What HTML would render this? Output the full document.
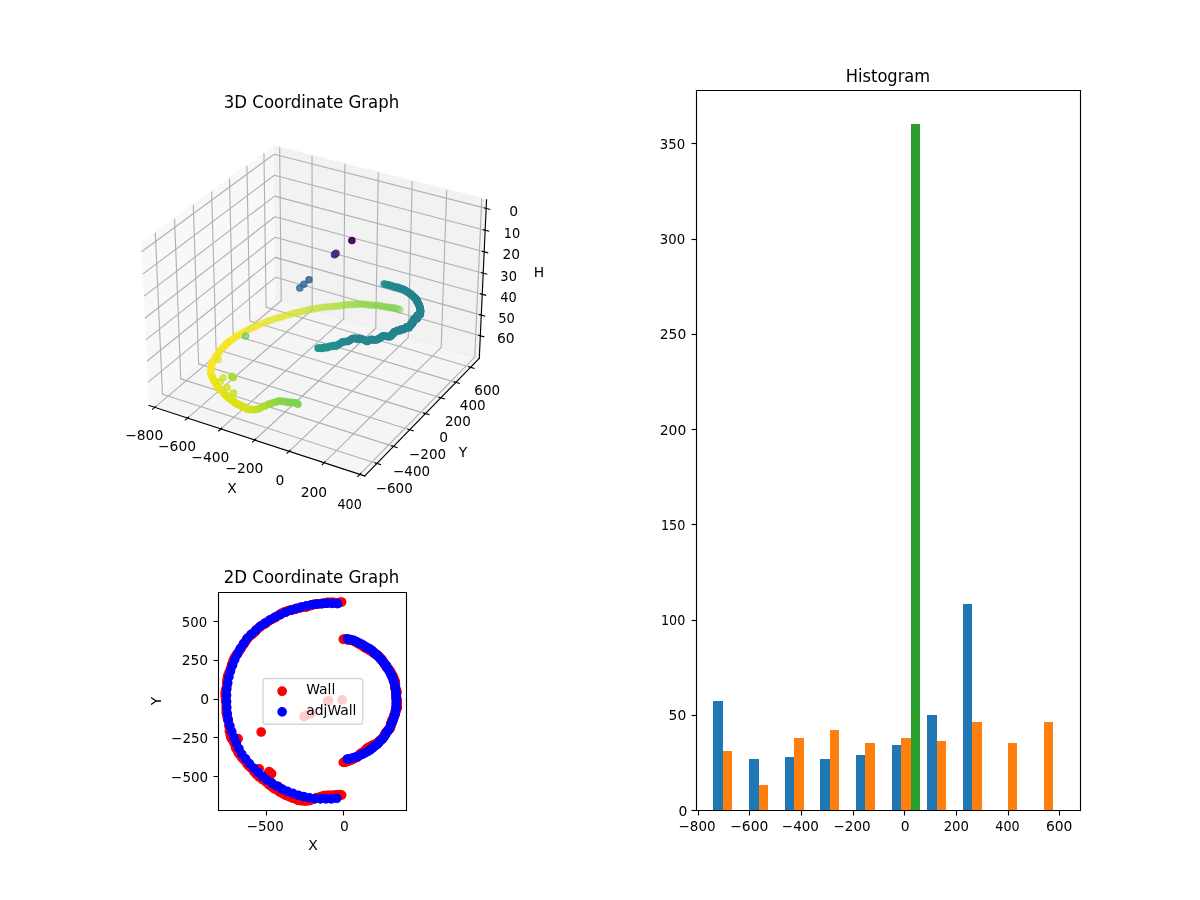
<!DOCTYPE html>
<html lang="en"><head><meta charset="utf-8"><title>Coordinate Graphs</title>
<style>html,body{margin:0;padding:0;background:#fff}svg{display:block}</style></head>
<body>
<svg width="1200" height="900" viewBox="0 0 864 648"><defs><style type="text/css">*{stroke-linejoin: round; stroke-linecap: butt}</style></defs><g><g><path d="M 0 648 L 864 648 L 864 0 L 0 0 z" style="fill: #ffffff" /></g><g><path d="M 86.4 360 L 362.88 360 L 362.88 83.52 L 86.4 83.52 z" style="fill: #ffffff" /></g><g><g><path d="M 101.64 174.87 L 197.31 105.06 L 198.58 215.43 L 107.28 291.96" style="fill: #f2f2f2; opacity: 0.5; stroke: #f2f2f2; stroke-linejoin: miter" /></g></g><g><g><path d="M 197.31 105.06 L 350.32 143.84 L 345.09 258.01 L 198.58 215.43" style="fill: #e6e6e6; opacity: 0.5; stroke: #e6e6e6; stroke-linejoin: miter" /></g></g><g><g><path d="M 107.28 291.96 L 262.58 342.68 L 345.09 258.01 L 198.58 215.43" style="fill: #ececec; opacity: 0.5; stroke: #ececec; stroke-linejoin: miter" /></g></g><g><g><path d="M 111.37 293.3 L 202.46 216.55 L 201.35 106.08" style="fill: none; stroke: #b0b0b0; stroke-width: 0.8" /><path d="M 134.98 301.01 L 224.8 223.05 L 224.65 111.99" style="fill: none; stroke: #b0b0b0; stroke-width: 0.8" /><path d="M 158.97 308.84 L 247.49 229.65 L 248.32 117.99" style="fill: none; stroke: #b0b0b0; stroke-width: 0.8" /><path d="M 183.37 316.81 L 270.53 236.34 L 272.37 124.08" style="fill: none; stroke: #b0b0b0; stroke-width: 0.8" /><path d="M 208.19 324.92 L 293.92 243.14 L 296.8 130.27" style="fill: none; stroke: #b0b0b0; stroke-width: 0.8" /><path d="M 233.42 333.16 L 317.67 250.04 L 321.64 136.57" style="fill: none; stroke: #b0b0b0; stroke-width: 0.8" /><path d="M 259.08 341.54 L 341.8 257.06 L 346.88 142.97" style="fill: none; stroke: #b0b0b0; stroke-width: 0.8" /></g></g><g><g><path d="M 111.82 167.44 L 116.96 283.84 L 271.37 333.66" style="fill: none; stroke: #b0b0b0; stroke-width: 0.8" /><path d="M 125.67 157.34 L 130.14 272.79 L 283.32 321.4" style="fill: none; stroke: #b0b0b0; stroke-width: 0.8" /><path d="M 139.17 147.48 L 143.02 262 L 294.96 309.45" style="fill: none; stroke: #b0b0b0; stroke-width: 0.8" /><path d="M 152.35 137.86 L 155.59 251.46 L 306.33 297.79" style="fill: none; stroke: #b0b0b0; stroke-width: 0.8" /><path d="M 165.21 128.48 L 167.87 241.17 L 317.42 286.41" style="fill: none; stroke: #b0b0b0; stroke-width: 0.8" /><path d="M 177.77 119.32 L 179.87 231.11 L 328.24 275.3" style="fill: none; stroke: #b0b0b0; stroke-width: 0.8" /><path d="M 190.03 110.37 L 191.61 221.27 L 338.81 264.45" style="fill: none; stroke: #b0b0b0; stroke-width: 0.8" /></g></g><g><g><path d="M 350.03 150.03 L 197.38 111.03 L 101.94 181.23" style="fill: none; stroke: #b0b0b0; stroke-width: 0.8" /><path d="M 349.31 165.76 L 197.55 126.22 L 102.72 197.39" style="fill: none; stroke: #b0b0b0; stroke-width: 0.8" /><path d="M 348.6 181.32 L 197.73 141.23 L 103.49 213.35" style="fill: none; stroke: #b0b0b0; stroke-width: 0.8" /><path d="M 347.9 196.69 L 197.9 156.09 L 104.25 229.12" style="fill: none; stroke: #b0b0b0; stroke-width: 0.8" /><path d="M 347.2 211.88 L 198.07 170.77 L 105 244.7" style="fill: none; stroke: #b0b0b0; stroke-width: 0.8" /><path d="M 346.51 226.89 L 198.23 185.3 L 105.74 260.09" style="fill: none; stroke: #b0b0b0; stroke-width: 0.8" /><path d="M 345.83 241.74 L 198.4 199.66 L 106.47 275.29" style="fill: none; stroke: #b0b0b0; stroke-width: 0.8" /></g></g><g><g><path d="M 107.28 291.96 L 262.58 342.68" style="fill: none; stroke: #000000; stroke-width: 0.8; stroke-linecap: square" /></g><g><g><path d="M 112.16 292.63 L 109.78 294.64" style="fill: none; stroke: #000000; stroke-width: 0.8; stroke-linecap: square" /></g><g><text style="font-size: 10px; font-family: 'DejaVu Sans', sans-serif; text-anchor: middle" x="103.83" y="316.57">−800</text></g></g><g><g><path d="M 135.76 300.33 L 133.41 302.37" style="fill: none; stroke: #000000; stroke-width: 0.8; stroke-linecap: square" /></g><g><text style="font-size: 10px; font-family: 'DejaVu Sans', sans-serif; text-anchor: middle" x="127.47" y="324.44">−600</text></g></g><g><g><path d="M 159.75 308.15 L 157.43 310.23" style="fill: none; stroke: #000000; stroke-width: 0.8; stroke-linecap: square" /></g><g><text style="font-size: 10px; font-family: 'DejaVu Sans', sans-serif; text-anchor: middle" x="151.49" y="332.43">−400</text></g></g><g><g><path d="M 184.13 316.11 L 181.85 318.22" style="fill: none; stroke: #000000; stroke-width: 0.8; stroke-linecap: square" /></g><g><text style="font-size: 10px; font-family: 'DejaVu Sans', sans-serif; text-anchor: middle" x="175.91" y="340.57">−200</text></g></g><g><g><path d="M 208.93 324.2 L 206.68 326.35" style="fill: none; stroke: #000000; stroke-width: 0.8; stroke-linecap: square" /></g><g><text style="font-size: 10px; font-family: 'DejaVu Sans', sans-serif; text-anchor: middle" x="200.75" y="348.84" transform="translate(0.720 0.720)">0</text></g></g><g><g><path d="M 234.15 332.43 L 231.94 334.61" style="fill: none; stroke: #000000; stroke-width: 0.8; stroke-linecap: square" /></g><g><text style="font-size: 10px; font-family: 'DejaVu Sans', sans-serif; text-anchor: middle" x="226.02" y="357.25" transform="translate(0.000 0.720)">200</text></g></g><g><g><path d="M 259.81 340.8 L 257.63 343.02" style="fill: none; stroke: #000000; stroke-width: 0.8; stroke-linecap: square" /></g><g><text style="font-size: 10px; font-family: 'DejaVu Sans', sans-serif; text-anchor: middle" x="251.72" y="365.8" transform="translate(0.000 0.720) translate(251.72 365.80) scale(0.9200 1.0000) translate(-251.72 -365.80)">400</text></g></g><g><text style="font-size: 10px; font-family: 'DejaVu Sans', sans-serif; text-anchor: middle" x="166.6" y="354.67" transform="translate(0.360 0.000)">X</text></g></g><g><g><path d="M 345.09 258.01 L 262.58 342.68" style="fill: none; stroke: #000000; stroke-width: 0.8; stroke-linecap: square" /></g><g><g><path d="M 270.07 333.24 L 273.98 334.5" style="fill: none; stroke: #000000; stroke-width: 0.8; stroke-linecap: square" /></g><g><text style="font-size: 10px; font-family: 'DejaVu Sans', sans-serif; text-anchor: middle" x="284.21" y="354.64" transform="translate(-0.360 0.000) translate(284.21 354.64) scale(0.9722 1.0000) translate(-284.21 -354.64)">−600</text></g></g><g><g><path d="M 282.03 321 L 285.9 322.22" style="fill: none; stroke: #000000; stroke-width: 0.8; stroke-linecap: square" /></g><g><text style="font-size: 10px; font-family: 'DejaVu Sans', sans-serif; text-anchor: middle" x="296" y="342.21" transform="translate(0.360 0.720) translate(296.00 342.21) scale(0.9722 1.0000) translate(-296.00 -342.21)">−400</text></g></g><g><g><path d="M 293.69 309.05 L 297.53 310.25" style="fill: none; stroke: #000000; stroke-width: 0.8; stroke-linecap: square" /></g><g><text style="font-size: 10px; font-family: 'DejaVu Sans', sans-serif; text-anchor: middle" x="307.5" y="330.08" transform="translate(0.360 0.720) translate(307.50 330.08) scale(0.9722 1.0000) translate(-307.50 -330.08)">−200</text></g></g><g><g><path d="M 305.06 297.4 L 308.87 298.57" style="fill: none; stroke: #000000; stroke-width: 0.8; stroke-linecap: square" /></g><g><text style="font-size: 10px; font-family: 'DejaVu Sans', sans-serif; text-anchor: middle" x="318.72" y="318.25" transform="translate(0.720 0.000)">0</text></g></g><g><g><path d="M 316.16 286.03 L 319.94 287.17" style="fill: none; stroke: #000000; stroke-width: 0.8; stroke-linecap: square" /></g><g><text style="font-size: 10px; font-family: 'DejaVu Sans', sans-serif; text-anchor: middle" x="329.66" y="306.71" transform="translate(329.66 306.71) scale(0.9750 1.0000) translate(-329.66 -306.71)">200</text></g></g><g><g><path d="M 327 274.93 L 330.74 276.04" style="fill: none; stroke: #000000; stroke-width: 0.8; stroke-linecap: square" /></g><g><text style="font-size: 10px; font-family: 'DejaVu Sans', sans-serif; text-anchor: middle" x="340.35" y="295.44" transform="translate(340.35 295.44) scale(0.9750 1.0000) translate(-340.35 -295.44)">400</text></g></g><g><g><path d="M 337.58 264.09 L 341.29 265.18" style="fill: none; stroke: #000000; stroke-width: 0.8; stroke-linecap: square" /></g><g><text style="font-size: 10px; font-family: 'DejaVu Sans', sans-serif; text-anchor: middle" x="350.78" y="284.44" transform="translate(350.78 284.44) scale(0.9750 1.0000) translate(-350.78 -284.44)">600</text></g></g><g><text style="font-size: 10px; font-family: 'DejaVu Sans', sans-serif; text-anchor: middle" x="332.65" y="329.22" transform="translate(0.720 0.000)">Y</text></g></g><g><g><path d="M 345.09 258.01 L 350.32 143.84" style="fill: none; stroke: #000000; stroke-width: 0.8; stroke-linecap: square" /></g><g><g><path d="M 348.75 149.7 L 352.6 150.68" style="fill: none; stroke: #000000; stroke-width: 0.8; stroke-linecap: square" /></g><g><text style="font-size: 10px; font-family: 'DejaVu Sans', sans-serif; text-anchor: middle" x="369.04" y="155.23" transform="translate(0.720 0.000)">0</text></g></g><g><g><path d="M 348.04 165.43 L 351.87 166.43" style="fill: none; stroke: #000000; stroke-width: 0.8; stroke-linecap: square" /></g><g><text style="font-size: 10px; font-family: 'DejaVu Sans', sans-serif; text-anchor: middle" x="368.21" y="170.94" transform="translate(0.360 0.720) translate(368.21 170.94) scale(0.9333 1.0000) translate(-368.21 -170.94)">10</text></g></g><g><g><path d="M 347.33 180.98 L 351.14 181.99" style="fill: none; stroke: #000000; stroke-width: 0.8; stroke-linecap: square" /></g><g><text style="font-size: 10px; font-family: 'DejaVu Sans', sans-serif; text-anchor: middle" x="367.39" y="186.46" transform="translate(0.720 0.000)">20</text></g></g><g><g><path d="M 346.64 196.35 L 350.42 197.37" style="fill: none; stroke: #000000; stroke-width: 0.8; stroke-linecap: square" /></g><g><text style="font-size: 10px; font-family: 'DejaVu Sans', sans-serif; text-anchor: middle" x="366.58" y="201.8" transform="translate(-0.360 0.720) translate(366.58 201.80) scale(0.9375 1.0000) translate(-366.58 -201.80)">30</text></g></g><g><g><path d="M 345.95 211.53 L 349.71 212.57" style="fill: none; stroke: #000000; stroke-width: 0.8; stroke-linecap: square" /></g><g><text style="font-size: 10px; font-family: 'DejaVu Sans', sans-serif; text-anchor: middle" x="365.77" y="216.96" transform="translate(0.360 0.720) translate(365.77 216.96) scale(0.9375 1.0000) translate(-365.77 -216.96)">40</text></g></g><g><g><path d="M 345.27 226.54 L 349.01 227.59" style="fill: none; stroke: #000000; stroke-width: 0.8; stroke-linecap: square" /></g><g><text style="font-size: 10px; font-family: 'DejaVu Sans', sans-serif; text-anchor: middle" x="364.98" y="231.95" transform="translate(-0.360 0.720) translate(364.98 231.95) scale(0.9375 1.0000) translate(-364.98 -231.95)">50</text></g></g><g><g><path d="M 344.59 241.38 L 348.31 242.44" style="fill: none; stroke: #000000; stroke-width: 0.8; stroke-linecap: square" /></g><g><text style="font-size: 10px; font-family: 'DejaVu Sans', sans-serif; text-anchor: middle" x="364.2" y="246.76">60</text></g></g><g><text style="font-size: 10px; font-family: 'DejaVu Sans', sans-serif; text-anchor: middle" x="388.03" y="199.52">H</text></g></g><g><g><g clip-path="url(#pd46f35ea29)"><circle cx="216" cy="224.62" r="2.236" style="fill: #d0e11c; fill-opacity: 0.3; stroke: #d0e11c; stroke-opacity: 0.3" /></g><g clip-path="url(#pd46f35ea29)"><circle cx="214.46" cy="224.93" r="2.236" style="fill: #d0e11c; fill-opacity: 0.300574; stroke: #d0e11c; stroke-opacity: 0.300574" /></g><g clip-path="url(#pd46f35ea29)"><circle cx="219.18" cy="223.9" r="2.236" style="fill: #cae11f; fill-opacity: 0.30082; stroke: #cae11f; stroke-opacity: 0.30082" /></g><g clip-path="url(#pd46f35ea29)"><circle cx="217.63" cy="224.19" r="2.236" style="fill: #cae11f; fill-opacity: 0.30109; stroke: #cae11f; stroke-opacity: 0.30109" /></g><g clip-path="url(#pd46f35ea29)"><circle cx="204.98" cy="227.54" r="2.236" style="fill: #dde318; fill-opacity: 0.301243; stroke: #dde318; stroke-opacity: 0.301243" /></g><g clip-path="url(#pd46f35ea29)"><circle cx="208.2" cy="226.53" r="2.236" style="fill: #d8e219; fill-opacity: 0.301605; stroke: #d8e219; stroke-opacity: 0.301605" /></g><g clip-path="url(#pd46f35ea29)"><circle cx="212.97" cy="225.21" r="2.236" style="fill: #d0e11c; fill-opacity: 0.301818; stroke: #d0e11c; stroke-opacity: 0.301818" /></g><g clip-path="url(#pd46f35ea29)"><circle cx="203.44" cy="228" r="2.236" style="fill: #dfe318; fill-opacity: 0.302133; stroke: #dfe318; stroke-opacity: 0.302133" /></g><g clip-path="url(#pd46f35ea29)"><circle cx="206.66" cy="226.95" r="2.236" style="fill: #dae319; fill-opacity: 0.302234; stroke: #dae319; stroke-opacity: 0.302234" /></g><g clip-path="url(#pd46f35ea29)"><circle cx="209.88" cy="225.97" r="2.236" style="fill: #d5e21a; fill-opacity: 0.302838; stroke: #d5e21a; stroke-opacity: 0.302838" /></g><g clip-path="url(#pd46f35ea29)"><circle cx="220.87" cy="223.41" r="2.236" style="fill: #c5e021; fill-opacity: 0.303287; stroke: #c5e021; stroke-opacity: 0.303287" /></g><g clip-path="url(#pd46f35ea29)"><circle cx="211.53" cy="225.45" r="2.236" style="fill: #d0e11c; fill-opacity: 0.30378; stroke: #d0e11c; stroke-opacity: 0.30378" /></g><g clip-path="url(#pd46f35ea29)"><circle cx="202" cy="228.36" r="2.236" style="fill: #dfe318; fill-opacity: 0.304251; stroke: #dfe318; stroke-opacity: 0.304251" /></g><g clip-path="url(#pd46f35ea29)"><circle cx="225.57" cy="222.55" r="2.236" style="fill: #c0df25; fill-opacity: 0.304685; stroke: #c0df25; stroke-opacity: 0.304685" /></g><g clip-path="url(#pd46f35ea29)"><circle cx="224.06" cy="222.73" r="2.236" style="fill: #c0df25; fill-opacity: 0.305279; stroke: #c0df25; stroke-opacity: 0.305279" /></g><g clip-path="url(#pd46f35ea29)"><circle cx="222.54" cy="222.93" r="2.236" style="fill: #c2df23; fill-opacity: 0.305829; stroke: #c2df23; stroke-opacity: 0.305829" /></g><g clip-path="url(#pd46f35ea29)"><circle cx="227.17" cy="222.24" r="2.236" style="fill: #bddf26; fill-opacity: 0.306114; stroke: #bddf26; stroke-opacity: 0.306114" /></g><g clip-path="url(#pd46f35ea29)"><circle cx="200.65" cy="228.66" r="2.236" style="fill: #dfe318; fill-opacity: 0.307362; stroke: #dfe318; stroke-opacity: 0.307362" /></g><g clip-path="url(#pd46f35ea29)"><circle cx="228.79" cy="221.89" r="2.236" style="fill: #bade28; fill-opacity: 0.308226; stroke: #bade28; stroke-opacity: 0.308226" /></g><g clip-path="url(#pd46f35ea29)"><circle cx="199.16" cy="229.13" r="2.236" style="fill: #dfe318; fill-opacity: 0.308876; stroke: #dfe318; stroke-opacity: 0.308876" /></g><g clip-path="url(#pd46f35ea29)"><circle cx="230.37" cy="221.6" r="2.236" style="fill: #b8de29; fill-opacity: 0.309779; stroke: #b8de29; stroke-opacity: 0.309779" /></g><g clip-path="url(#pd46f35ea29)"><circle cx="197.73" cy="229.56" r="2.236" style="fill: #e2e418; fill-opacity: 0.310985; stroke: #e2e418; stroke-opacity: 0.310985" /></g><g clip-path="url(#pd46f35ea29)"><circle cx="235" cy="221.09" r="2.236" style="fill: #b5de2b; fill-opacity: 0.311876; stroke: #b5de2b; stroke-opacity: 0.311876" /></g><g clip-path="url(#pd46f35ea29)"><circle cx="231.97" cy="221.29" r="2.236" style="fill: #b5de2b; fill-opacity: 0.312002; stroke: #b5de2b; stroke-opacity: 0.312002" /></g><g clip-path="url(#pd46f35ea29)"><circle cx="233.52" cy="221.09" r="2.236" style="fill: #b2dd2d; fill-opacity: 0.312992; stroke: #b2dd2d; stroke-opacity: 0.312992" /></g><g clip-path="url(#pd46f35ea29)"><circle cx="196.29" cy="230.03" r="2.236" style="fill: #e2e418; fill-opacity: 0.312999; stroke: #e2e418; stroke-opacity: 0.312999" /></g><g clip-path="url(#pd46f35ea29)"><circle cx="238.07" cy="220.84" r="2.236" style="fill: #b2dd2d; fill-opacity: 0.313334; stroke: #b2dd2d; stroke-opacity: 0.313334" /></g><g clip-path="url(#pd46f35ea29)"><circle cx="236.56" cy="220.88" r="2.236" style="fill: #b2dd2d; fill-opacity: 0.313514; stroke: #b2dd2d; stroke-opacity: 0.313514" /></g><g clip-path="url(#pd46f35ea29)"><circle cx="194.82" cy="230.55" r="2.236" style="fill: #e5e419; fill-opacity: 0.314723; stroke: #e5e419; stroke-opacity: 0.314723" /></g><g clip-path="url(#pd46f35ea29)"><circle cx="241.14" cy="220.61" r="2.236" style="fill: #b0dd2f; fill-opacity: 0.315679; stroke: #b0dd2f; stroke-opacity: 0.315679" /></g><g clip-path="url(#pd46f35ea29)"><circle cx="239.64" cy="220.62" r="2.236" style="fill: #b0dd2f; fill-opacity: 0.315689; stroke: #b0dd2f; stroke-opacity: 0.315689" /></g><g clip-path="url(#pd46f35ea29)"><circle cx="193.4" cy="231.04" r="2.236" style="fill: #e5e419; fill-opacity: 0.31697; stroke: #e5e419; stroke-opacity: 0.31697" /></g><g clip-path="url(#pd46f35ea29)"><circle cx="191.91" cy="231.63" r="2.236" style="fill: #e7e419; fill-opacity: 0.31846; stroke: #e7e419; stroke-opacity: 0.31846" /></g><g clip-path="url(#pd46f35ea29)"><circle cx="242.72" cy="220.33" r="2.236" style="fill: #aadc32; fill-opacity: 0.319234; stroke: #aadc32; stroke-opacity: 0.319234" /></g><g clip-path="url(#pd46f35ea29)"><circle cx="190.34" cy="232.31" r="2.236" style="fill: #eae51a; fill-opacity: 0.319305; stroke: #eae51a; stroke-opacity: 0.319305" /></g><g clip-path="url(#pd46f35ea29)"><circle cx="188.82" cy="232.98" r="2.236" style="fill: #ece51b; fill-opacity: 0.320594; stroke: #ece51b; stroke-opacity: 0.320594" /></g><g clip-path="url(#pd46f35ea29)"><circle cx="244.26" cy="220.2" r="2.236" style="fill: #aadc32; fill-opacity: 0.321245; stroke: #aadc32; stroke-opacity: 0.321245" /></g><g clip-path="url(#pd46f35ea29)"><circle cx="187.33" cy="233.63" r="2.236" style="fill: #efe51c; fill-opacity: 0.32222; stroke: #efe51c; stroke-opacity: 0.32222" /></g><g clip-path="url(#pd46f35ea29)"><circle cx="185.93" cy="234.23" r="2.236" style="fill: #f1e51d; fill-opacity: 0.324731; stroke: #f1e51d; stroke-opacity: 0.324731" /></g><g clip-path="url(#pd46f35ea29)"><circle cx="245.81" cy="219.93" r="2.236" style="fill: #a5db36; fill-opacity: 0.325243; stroke: #a5db36; stroke-opacity: 0.325243" /></g><g clip-path="url(#pd46f35ea29)"><circle cx="184.53" cy="234.85" r="2.236" style="fill: #f1e51d; fill-opacity: 0.327232; stroke: #f1e51d; stroke-opacity: 0.327232" /></g><g clip-path="url(#pd46f35ea29)"><circle cx="247.34" cy="219.79" r="2.236" style="fill: #a2da37; fill-opacity: 0.327875; stroke: #a2da37; stroke-opacity: 0.327875" /></g><g clip-path="url(#pd46f35ea29)"><circle cx="183.51" cy="235.17" r="2.236" style="fill: #f1e51d; fill-opacity: 0.332888; stroke: #f1e51d; stroke-opacity: 0.332888" /></g><g clip-path="url(#pd46f35ea29)"><circle cx="248.88" cy="219.46" r="2.236" style="fill: #9dd93b; fill-opacity: 0.333154; stroke: #9dd93b; stroke-opacity: 0.333154" /></g><g clip-path="url(#pd46f35ea29)"><circle cx="182.1" cy="235.85" r="2.236" style="fill: #f1e51d; fill-opacity: 0.335233; stroke: #f1e51d; stroke-opacity: 0.335233" /></g><g clip-path="url(#pd46f35ea29)"><circle cx="250.38" cy="219.34" r="2.236" style="fill: #9bd93c; fill-opacity: 0.336031; stroke: #9bd93c; stroke-opacity: 0.336031" /></g><g clip-path="url(#pd46f35ea29)"><circle cx="251.85" cy="219.4" r="2.236" style="fill: #9bd93c; fill-opacity: 0.336925; stroke: #9bd93c; stroke-opacity: 0.336925" /></g><g clip-path="url(#pd46f35ea29)"><circle cx="180.98" cy="236.31" r="2.236" style="fill: #f1e51d; fill-opacity: 0.339902; stroke: #f1e51d; stroke-opacity: 0.339902" /></g><g clip-path="url(#pd46f35ea29)"><circle cx="253.34" cy="219.24" r="2.236" style="fill: #98d83e; fill-opacity: 0.340719; stroke: #98d83e; stroke-opacity: 0.340719" /></g><g clip-path="url(#pd46f35ea29)"><circle cx="254.81" cy="219.17" r="2.236" style="fill: #95d840; fill-opacity: 0.343613; stroke: #95d840; stroke-opacity: 0.343613" /></g><g clip-path="url(#pd46f35ea29)"><circle cx="179.76" cy="236.88" r="2.236" style="fill: #f1e51d; fill-opacity: 0.343723; stroke: #f1e51d; stroke-opacity: 0.343723" /></g><g clip-path="url(#pd46f35ea29)"><circle cx="256.27" cy="219.16" r="2.236" style="fill: #93d741; fill-opacity: 0.346091; stroke: #93d741; stroke-opacity: 0.346091" /></g><g clip-path="url(#pd46f35ea29)"><circle cx="178.66" cy="237.38" r="2.236" style="fill: #f1e51d; fill-opacity: 0.348434; stroke: #f1e51d; stroke-opacity: 0.348434" /></g><g clip-path="url(#pd46f35ea29)"><circle cx="257.72" cy="219.13" r="2.236" style="fill: #93d741; fill-opacity: 0.348979; stroke: #93d741; stroke-opacity: 0.348979" /></g><g clip-path="url(#pd46f35ea29)"><circle cx="177.23" cy="238.19" r="2.236" style="fill: #f4e61e; fill-opacity: 0.350535; stroke: #f4e61e; stroke-opacity: 0.350535" /></g><g clip-path="url(#pd46f35ea29)"><circle cx="175.85" cy="238.98" r="2.236" style="fill: #f6e620; fill-opacity: 0.353095; stroke: #f6e620; stroke-opacity: 0.353095" /></g><g clip-path="url(#pd46f35ea29)"><circle cx="259.14" cy="218.83" r="2.236" style="fill: #8ed645; fill-opacity: 0.355422; stroke: #8ed645; stroke-opacity: 0.355422" /></g><g clip-path="url(#pd46f35ea29)"><circle cx="174.62" cy="239.68" r="2.236" style="fill: #f8e621; fill-opacity: 0.356664; stroke: #f8e621; stroke-opacity: 0.356664" /></g><g clip-path="url(#pd46f35ea29)"><circle cx="260.58" cy="218.96" r="2.236" style="fill: #8ed645; fill-opacity: 0.356747; stroke: #8ed645; stroke-opacity: 0.356747" /></g><g clip-path="url(#pd46f35ea29)"><circle cx="262.01" cy="219.1" r="2.236" style="fill: #8bd646; fill-opacity: 0.358204; stroke: #8bd646; stroke-opacity: 0.358204" /></g><g clip-path="url(#pd46f35ea29)"><circle cx="263.46" cy="219.32" r="2.236" style="fill: #8ed645; fill-opacity: 0.358901; stroke: #8ed645; stroke-opacity: 0.358901" /></g><g clip-path="url(#pd46f35ea29)"><circle cx="173.52" cy="240.29" r="2.236" style="fill: #f8e621; fill-opacity: 0.361219; stroke: #f8e621; stroke-opacity: 0.361219" /></g><g clip-path="url(#pd46f35ea29)"><circle cx="266.33" cy="219.69" r="2.236" style="fill: #8ed645; fill-opacity: 0.361896; stroke: #8ed645; stroke-opacity: 0.361896" /></g><g clip-path="url(#pd46f35ea29)"><circle cx="264.86" cy="219.31" r="2.236" style="fill: #8bd646; fill-opacity: 0.362675; stroke: #8bd646; stroke-opacity: 0.362675" /></g><g clip-path="url(#pd46f35ea29)"><circle cx="267.7" cy="219.66" r="2.236" style="fill: #8bd646; fill-opacity: 0.366312; stroke: #8bd646; stroke-opacity: 0.366312" /></g><g clip-path="url(#pd46f35ea29)"><circle cx="172.52" cy="240.85" r="2.236" style="fill: #f8e621; fill-opacity: 0.366394; stroke: #f8e621; stroke-opacity: 0.366394" /></g><g clip-path="url(#pd46f35ea29)"><circle cx="269.11" cy="219.82" r="2.236" style="fill: #89d548; fill-opacity: 0.368638; stroke: #89d548; stroke-opacity: 0.368638" /></g><g clip-path="url(#pd46f35ea29)"><circle cx="171.62" cy="241.35" r="2.236" style="fill: #f6e620; fill-opacity: 0.372167; stroke: #f6e620; stroke-opacity: 0.372167" /></g><g clip-path="url(#pd46f35ea29)"><circle cx="270.44" cy="219.79" r="2.236" style="fill: #86d549; fill-opacity: 0.373423; stroke: #86d549; stroke-opacity: 0.373423" /></g><g clip-path="url(#pd46f35ea29)"><circle cx="271.81" cy="219.92" r="2.236" style="fill: #86d549; fill-opacity: 0.376496; stroke: #86d549; stroke-opacity: 0.376496" /></g><g clip-path="url(#pd46f35ea29)"><circle cx="170.58" cy="242" r="2.236" style="fill: #f6e620; fill-opacity: 0.376912; stroke: #f6e620; stroke-opacity: 0.376912" /></g><g clip-path="url(#pd46f35ea29)"><circle cx="273.21" cy="220.17" r="2.236" style="fill: #86d549; fill-opacity: 0.378465; stroke: #86d549; stroke-opacity: 0.378465" /></g><g clip-path="url(#pd46f35ea29)"><circle cx="274.59" cy="220.38" r="2.236" style="fill: #86d549; fill-opacity: 0.381034; stroke: #86d549; stroke-opacity: 0.381034" /></g><g clip-path="url(#pd46f35ea29)"><circle cx="275.99" cy="220.7" r="2.236" style="fill: #86d549; fill-opacity: 0.382624; stroke: #86d549; stroke-opacity: 0.382624" /></g><g clip-path="url(#pd46f35ea29)"><circle cx="169.85" cy="242.42" r="2.236" style="fill: #f6e620; fill-opacity: 0.383608; stroke: #f6e620; stroke-opacity: 0.383608" /></g><g clip-path="url(#pd46f35ea29)"><circle cx="277.36" cy="220.93" r="2.236" style="fill: #86d549; fill-opacity: 0.385309; stroke: #86d549; stroke-opacity: 0.385309" /></g><g clip-path="url(#pd46f35ea29)"><circle cx="168.55" cy="243.34" r="2.236" style="fill: #f8e621; fill-opacity: 0.386534; stroke: #f8e621; stroke-opacity: 0.386534" /></g><g clip-path="url(#pd46f35ea29)"><circle cx="278.63" cy="221.01" r="2.236" style="fill: #84d44b; fill-opacity: 0.389992; stroke: #84d44b; stroke-opacity: 0.389992" /></g><g clip-path="url(#pd46f35ea29)"><circle cx="167.62" cy="243.99" r="2.236" style="fill: #f8e621; fill-opacity: 0.391802; stroke: #f8e621; stroke-opacity: 0.391802" /></g><g clip-path="url(#pd46f35ea29)"><circle cx="280.01" cy="221.33" r="2.236" style="fill: #84d44b; fill-opacity: 0.39217; stroke: #84d44b; stroke-opacity: 0.39217" /></g><g clip-path="url(#pd46f35ea29)"><circle cx="166.29" cy="245" r="2.236" style="fill: #fbe723; fill-opacity: 0.394537; stroke: #fbe723; stroke-opacity: 0.394537" /></g><g clip-path="url(#pd46f35ea29)"><circle cx="281.28" cy="221.48" r="2.236" style="fill: #81d34d; fill-opacity: 0.396415; stroke: #81d34d; stroke-opacity: 0.396415" /></g><g clip-path="url(#pd46f35ea29)"><circle cx="282.56" cy="221.66" r="2.236" style="fill: #7fd34e; fill-opacity: 0.400409; stroke: #7fd34e; stroke-opacity: 0.400409" /></g><g clip-path="url(#pd46f35ea29)"><circle cx="165.62" cy="245.49" r="2.236" style="fill: #f8e621; fill-opacity: 0.401249; stroke: #f8e621; stroke-opacity: 0.401249" /></g><g clip-path="url(#pd46f35ea29)"><circle cx="283.74" cy="221.74" r="2.236" style="fill: #7cd250; fill-opacity: 0.405765; stroke: #7cd250; stroke-opacity: 0.405765" /></g><g clip-path="url(#pd46f35ea29)"><circle cx="164.79" cy="246.14" r="2.236" style="fill: #f8e621; fill-opacity: 0.406932; stroke: #f8e621; stroke-opacity: 0.406932" /></g><g clip-path="url(#pd46f35ea29)"><circle cx="285.03" cy="222.01" r="2.236" style="fill: #7cd250; fill-opacity: 0.409144; stroke: #7cd250; stroke-opacity: 0.409144" /></g><g clip-path="url(#pd46f35ea29)"><circle cx="286.48" cy="222.58" r="2.236" style="fill: #7fd34e; fill-opacity: 0.40963; stroke: #7fd34e; stroke-opacity: 0.40963" /></g><g clip-path="url(#pd46f35ea29)"><circle cx="287.89" cy="223.08" r="2.236" style="fill: #81d34d; fill-opacity: 0.411066; stroke: #81d34d; stroke-opacity: 0.411066" /></g><g clip-path="url(#pd46f35ea29)"><circle cx="164.19" cy="246.64" r="2.236" style="fill: #f8e621; fill-opacity: 0.413849; stroke: #f8e621; stroke-opacity: 0.413849" /></g><g clip-path="url(#pd46f35ea29)"><circle cx="163.33" cy="247.37" r="2.236" style="fill: #f8e621; fill-opacity: 0.419213; stroke: #f8e621; stroke-opacity: 0.419213" /></g><g clip-path="url(#pd46f35ea29)"><circle cx="163.05" cy="247.66" r="2.236" style="fill: #f4e61e; fill-opacity: 0.42772; stroke: #f4e61e; stroke-opacity: 0.42772" /></g><g clip-path="url(#pd46f35ea29)"><circle cx="162.16" cy="248.48" r="2.236" style="fill: #f6e620; fill-opacity: 0.432741; stroke: #f6e620; stroke-opacity: 0.432741" /></g><g clip-path="url(#pd46f35ea29)"><circle cx="161.36" cy="249.26" r="2.236" style="fill: #f6e620; fill-opacity: 0.438168; stroke: #f6e620; stroke-opacity: 0.438168" /></g><g clip-path="url(#pd46f35ea29)"><circle cx="160.55" cy="250.07" r="2.236" style="fill: #f6e620; fill-opacity: 0.443495; stroke: #f6e620; stroke-opacity: 0.443495" /></g><g clip-path="url(#pd46f35ea29)"><circle cx="159.73" cy="250.93" r="2.236" style="fill: #f8e621; fill-opacity: 0.448741; stroke: #f8e621; stroke-opacity: 0.448741" /></g><g clip-path="url(#pd46f35ea29)"><circle cx="158.89" cy="251.83" r="2.236" style="fill: #f8e621; fill-opacity: 0.453863; stroke: #f8e621; stroke-opacity: 0.453863" /></g><g clip-path="url(#pd46f35ea29)"><circle cx="157.78" cy="253.25" r="2.236" style="fill: #f8e621; fill-opacity: 0.466724; stroke: #f8e621; stroke-opacity: 0.466724" /></g><g clip-path="url(#pd46f35ea29)"><circle cx="157.68" cy="253.62" r="2.236" style="fill: #f4e61e; fill-opacity: 0.475197; stroke: #f4e61e; stroke-opacity: 0.475197" /></g><g clip-path="url(#pd46f35ea29)"><circle cx="157.16" cy="254.38" r="2.236" style="fill: #f4e61e; fill-opacity: 0.481553; stroke: #f4e61e; stroke-opacity: 0.481553" /></g><g clip-path="url(#pd46f35ea29)"><circle cx="155.83" cy="256.23" r="2.236" style="fill: #f6e620; fill-opacity: 0.492754; stroke: #f6e620; stroke-opacity: 0.492754" /></g><g clip-path="url(#pd46f35ea29)"><circle cx="155.47" cy="256.94" r="2.236" style="fill: #f6e620; fill-opacity: 0.499653; stroke: #f6e620; stroke-opacity: 0.499653" /></g><g clip-path="url(#pd46f35ea29)"><circle cx="154.91" cy="257.86" r="2.236" style="fill: #f6e620; fill-opacity: 0.505566; stroke: #f6e620; stroke-opacity: 0.505566" /></g><g clip-path="url(#pd46f35ea29)"><circle cx="153.75" cy="259.33" r="2.236" style="fill: #fde725; fill-opacity: 0.508907; stroke: #fde725; stroke-opacity: 0.508907" /></g><g clip-path="url(#pd46f35ea29)"><circle cx="152.79" cy="261.2" r="2.236" style="fill: #fde725; fill-opacity: 0.52127; stroke: #fde725; stroke-opacity: 0.52127" /></g><g clip-path="url(#pd46f35ea29)"><circle cx="152.36" cy="262.13" r="2.236" style="fill: #fde725; fill-opacity: 0.527602; stroke: #fde725; stroke-opacity: 0.527602" /></g><g clip-path="url(#pd46f35ea29)"><circle cx="152.36" cy="262.72" r="2.236" style="fill: #fde725; fill-opacity: 0.535534; stroke: #fde725; stroke-opacity: 0.535534" /></g><g clip-path="url(#pd46f35ea29)"><circle cx="152.41" cy="263.93" r="2.236" style="fill: #f8e621; fill-opacity: 0.551272; stroke: #f8e621; stroke-opacity: 0.551272" /></g><g clip-path="url(#pd46f35ea29)"><circle cx="157.1" cy="258.99" r="2.236" style="fill: #dde318; fill-opacity: 0.56035; stroke: #dde318; stroke-opacity: 0.56035" /></g><g clip-path="url(#pd46f35ea29)"><circle cx="152.04" cy="265.64" r="2.236" style="fill: #f8e621; fill-opacity: 0.565047; stroke: #f8e621; stroke-opacity: 0.565047" /></g><g clip-path="url(#pd46f35ea29)"><circle cx="151.61" cy="266.78" r="2.236" style="fill: #fbe723; fill-opacity: 0.570923; stroke: #fbe723; stroke-opacity: 0.570923" /></g><g clip-path="url(#pd46f35ea29)"><circle cx="151.55" cy="268.4" r="2.236" style="fill: #fbe723; fill-opacity: 0.585395; stroke: #fbe723; stroke-opacity: 0.585395" /></g><g clip-path="url(#pd46f35ea29)"><circle cx="151.76" cy="269.04" r="2.236" style="fill: #f8e621; fill-opacity: 0.593282; stroke: #f8e621; stroke-opacity: 0.593282" /></g><g clip-path="url(#pd46f35ea29)"><circle cx="276.46" cy="204.33" r="2.236" style="fill: #218f8d; fill-opacity: 0.60717; stroke: #218f8d; stroke-opacity: 0.60717" /></g><g clip-path="url(#pd46f35ea29)"><circle cx="152.11" cy="270.46" r="2.236" style="fill: #f6e620; fill-opacity: 0.608524; stroke: #f6e620; stroke-opacity: 0.608524" /></g><g clip-path="url(#pd46f35ea29)"><circle cx="277.3" cy="204.61" r="2.236" style="fill: #218f8d; fill-opacity: 0.608734; stroke: #218f8d; stroke-opacity: 0.608734" /></g><g clip-path="url(#pd46f35ea29)"><circle cx="278.13" cy="204.88" r="2.236" style="fill: #218f8d; fill-opacity: 0.610508; stroke: #218f8d; stroke-opacity: 0.610508" /></g><g clip-path="url(#pd46f35ea29)"><circle cx="278.85" cy="205.02" r="2.236" style="fill: #218e8d; fill-opacity: 0.613654; stroke: #218e8d; stroke-opacity: 0.613654" /></g><g clip-path="url(#pd46f35ea29)"><circle cx="152.68" cy="270.83" r="2.236" style="fill: #f4e61e; fill-opacity: 0.617247; stroke: #f4e61e; stroke-opacity: 0.617247" /></g><g clip-path="url(#pd46f35ea29)"><circle cx="279.5" cy="205.07" r="2.236" style="fill: #218e8d; fill-opacity: 0.617725; stroke: #218e8d; stroke-opacity: 0.617725" /></g><g clip-path="url(#pd46f35ea29)"><circle cx="280.2" cy="205.22" r="2.236" style="fill: #228d8d; fill-opacity: 0.620892; stroke: #228d8d; stroke-opacity: 0.620892" /></g><g clip-path="url(#pd46f35ea29)"><circle cx="281.01" cy="205.53" r="2.236" style="fill: #228d8d; fill-opacity: 0.622664; stroke: #228d8d; stroke-opacity: 0.622664" /></g><g clip-path="url(#pd46f35ea29)"><circle cx="281.77" cy="205.79" r="2.236" style="fill: #228d8d; fill-opacity: 0.624992; stroke: #228d8d; stroke-opacity: 0.624992" /></g><g clip-path="url(#pd46f35ea29)"><circle cx="153" cy="271.46" r="2.236" style="fill: #f1e51d; fill-opacity: 0.62507; stroke: #f1e51d; stroke-opacity: 0.62507" /></g><g clip-path="url(#pd46f35ea29)"><circle cx="282.51" cy="206.03" r="2.236" style="fill: #228d8d; fill-opacity: 0.627618; stroke: #228d8d; stroke-opacity: 0.627618" /></g><g clip-path="url(#pd46f35ea29)"><circle cx="283.29" cy="206.35" r="2.236" style="fill: #228d8d; fill-opacity: 0.62963; stroke: #228d8d; stroke-opacity: 0.62963" /></g><g clip-path="url(#pd46f35ea29)"><circle cx="284.16" cy="206.79" r="2.236" style="fill: #218e8d; fill-opacity: 0.630708; stroke: #218e8d; stroke-opacity: 0.630708" /></g><g clip-path="url(#pd46f35ea29)"><circle cx="284.58" cy="206.7" r="2.236" style="fill: #228d8d; fill-opacity: 0.636427; stroke: #228d8d; stroke-opacity: 0.636427" /></g><g clip-path="url(#pd46f35ea29)"><circle cx="153.5" cy="272.97" r="2.236" style="fill: #f1e51d; fill-opacity: 0.639938; stroke: #f1e51d; stroke-opacity: 0.639938" /></g><g clip-path="url(#pd46f35ea29)"><circle cx="285.05" cy="206.71" r="2.236" style="fill: #228c8d; fill-opacity: 0.641337; stroke: #228c8d; stroke-opacity: 0.641337" /></g><g clip-path="url(#pd46f35ea29)"><circle cx="176.88" cy="241.93" r="2.236" style="fill: #58c765; fill-opacity: 0.644188; stroke: #58c765; stroke-opacity: 0.644188" /></g><g clip-path="url(#pd46f35ea29)"><circle cx="285.62" cy="206.84" r="2.236" style="fill: #228b8d; fill-opacity: 0.645197; stroke: #228b8d; stroke-opacity: 0.645197" /></g><g clip-path="url(#pd46f35ea29)"><circle cx="153.79" cy="273.72" r="2.236" style="fill: #efe51c; fill-opacity: 0.647384; stroke: #efe51c; stroke-opacity: 0.647384" /></g><g clip-path="url(#pd46f35ea29)"><circle cx="286.34" cy="207.17" r="2.236" style="fill: #228b8d; fill-opacity: 0.647509; stroke: #228b8d; stroke-opacity: 0.647509" /></g><g clip-path="url(#pd46f35ea29)"><circle cx="286.55" cy="206.94" r="2.236" style="fill: #23898e; fill-opacity: 0.654391; stroke: #23898e; stroke-opacity: 0.654391" /></g><g clip-path="url(#pd46f35ea29)"><circle cx="154.4" cy="274.18" r="2.236" style="fill: #ece51b; fill-opacity: 0.655609; stroke: #ece51b; stroke-opacity: 0.655609" /></g><g clip-path="url(#pd46f35ea29)"><circle cx="287.26" cy="207.3" r="2.236" style="fill: #23898e; fill-opacity: 0.656572; stroke: #23898e; stroke-opacity: 0.656572" /></g><g clip-path="url(#pd46f35ea29)"><circle cx="287.87" cy="207.55" r="2.236" style="fill: #23898e; fill-opacity: 0.659708; stroke: #23898e; stroke-opacity: 0.659708" /></g><g clip-path="url(#pd46f35ea29)"><circle cx="288.38" cy="207.72" r="2.236" style="fill: #23898e; fill-opacity: 0.66351; stroke: #23898e; stroke-opacity: 0.66351" /></g><g clip-path="url(#pd46f35ea29)"><circle cx="154.94" cy="274.74" r="2.236" style="fill: #ece51b; fill-opacity: 0.663524; stroke: #ece51b; stroke-opacity: 0.663524" /></g><g clip-path="url(#pd46f35ea29)"><circle cx="288.87" cy="207.88" r="2.236" style="fill: #23888e; fill-opacity: 0.667385; stroke: #23888e; stroke-opacity: 0.667385" /></g><g clip-path="url(#pd46f35ea29)"><circle cx="289.36" cy="208.06" r="2.236" style="fill: #23888e; fill-opacity: 0.671155; stroke: #23888e; stroke-opacity: 0.671155" /></g><g clip-path="url(#pd46f35ea29)"><circle cx="289.86" cy="208.27" r="2.236" style="fill: #24878e; fill-opacity: 0.674739; stroke: #24878e; stroke-opacity: 0.674739" /></g><g clip-path="url(#pd46f35ea29)"><circle cx="155.39" cy="276.6" r="2.236" style="fill: #ece51b; fill-opacity: 0.677365; stroke: #ece51b; stroke-opacity: 0.677365" /></g><g clip-path="url(#pd46f35ea29)"><circle cx="290.19" cy="208.32" r="2.236" style="fill: #24868e; fill-opacity: 0.679515; stroke: #24868e; stroke-opacity: 0.679515" /></g><g clip-path="url(#pd46f35ea29)"><circle cx="290.55" cy="208.41" r="2.236" style="fill: #24868e; fill-opacity: 0.683951; stroke: #24868e; stroke-opacity: 0.683951" /></g><g clip-path="url(#pd46f35ea29)"><circle cx="291.24" cy="208.87" r="2.236" style="fill: #24868e; fill-opacity: 0.685948; stroke: #24868e; stroke-opacity: 0.685948" /></g><g clip-path="url(#pd46f35ea29)"><circle cx="291.79" cy="209.19" r="2.236" style="fill: #24868e; fill-opacity: 0.688952; stroke: #24868e; stroke-opacity: 0.688952" /></g><g clip-path="url(#pd46f35ea29)"><circle cx="156.23" cy="278.18" r="2.236" style="fill: #ece51b; fill-opacity: 0.691888; stroke: #ece51b; stroke-opacity: 0.691888" /></g><g clip-path="url(#pd46f35ea29)"><circle cx="292.07" cy="209.25" r="2.236" style="fill: #25858e; fill-opacity: 0.693629; stroke: #25858e; stroke-opacity: 0.693629" /></g><g clip-path="url(#pd46f35ea29)"><circle cx="158.49" cy="274.99" r="2.236" style="fill: #dae319; fill-opacity: 0.693944; stroke: #dae319; stroke-opacity: 0.693944" /></g><g clip-path="url(#pd46f35ea29)"><circle cx="292.98" cy="209.97" r="2.236" style="fill: #24868e; fill-opacity: 0.694174; stroke: #24868e; stroke-opacity: 0.694174" /></g><g clip-path="url(#pd46f35ea29)"><circle cx="160.6" cy="272.05" r="2.236" style="fill: #cae11f; fill-opacity: 0.695858; stroke: #cae11f; stroke-opacity: 0.695858" /></g><g clip-path="url(#pd46f35ea29)"><circle cx="293.38" cy="210.18" r="2.236" style="fill: #24868e; fill-opacity: 0.697986; stroke: #24868e; stroke-opacity: 0.697986" /></g><g clip-path="url(#pd46f35ea29)"><circle cx="293.68" cy="210.32" r="2.236" style="fill: #25858e; fill-opacity: 0.702273; stroke: #25858e; stroke-opacity: 0.702273" /></g><g clip-path="url(#pd46f35ea29)"><circle cx="294.03" cy="210.52" r="2.236" style="fill: #25858e; fill-opacity: 0.70625; stroke: #25858e; stroke-opacity: 0.70625" /></g><g clip-path="url(#pd46f35ea29)"><circle cx="157.23" cy="279.69" r="2.236" style="fill: #eae51a; fill-opacity: 0.706487; stroke: #eae51a; stroke-opacity: 0.706487" /></g><g clip-path="url(#pd46f35ea29)"><circle cx="294.75" cy="211.1" r="2.236" style="fill: #24868e; fill-opacity: 0.707927; stroke: #24868e; stroke-opacity: 0.707927" /></g><g clip-path="url(#pd46f35ea29)"><circle cx="295.26" cy="211.49" r="2.236" style="fill: #24868e; fill-opacity: 0.710856; stroke: #24868e; stroke-opacity: 0.710856" /></g><g clip-path="url(#pd46f35ea29)"><circle cx="295.45" cy="211.58" r="2.236" style="fill: #25858e; fill-opacity: 0.715494; stroke: #25858e; stroke-opacity: 0.715494" /></g><g clip-path="url(#pd46f35ea29)"><circle cx="295.76" cy="211.79" r="2.236" style="fill: #25848e; fill-opacity: 0.719431; stroke: #25848e; stroke-opacity: 0.719431" /></g><g clip-path="url(#pd46f35ea29)"><circle cx="158.76" cy="280.74" r="2.236" style="fill: #e5e419; fill-opacity: 0.72191; stroke: #e5e419; stroke-opacity: 0.72191" /></g><g clip-path="url(#pd46f35ea29)"><circle cx="296.2" cy="212.16" r="2.236" style="fill: #25848e; fill-opacity: 0.722562; stroke: #25848e; stroke-opacity: 0.722562" /></g><g clip-path="url(#pd46f35ea29)"><circle cx="296.71" cy="212.6" r="2.236" style="fill: #25858e; fill-opacity: 0.725322; stroke: #25858e; stroke-opacity: 0.725322" /></g><g clip-path="url(#pd46f35ea29)"><circle cx="297.19" cy="213.04" r="2.236" style="fill: #25858e; fill-opacity: 0.728174; stroke: #25858e; stroke-opacity: 0.728174" /></g><g clip-path="url(#pd46f35ea29)"><circle cx="298.04" cy="213.84" r="2.236" style="fill: #24868e; fill-opacity: 0.729291; stroke: #24868e; stroke-opacity: 0.729291" /></g><g clip-path="url(#pd46f35ea29)"><circle cx="298.28" cy="214.07" r="2.236" style="fill: #24868e; fill-opacity: 0.733308; stroke: #24868e; stroke-opacity: 0.733308" /></g><g clip-path="url(#pd46f35ea29)"><circle cx="298.65" cy="214.44" r="2.236" style="fill: #24868e; fill-opacity: 0.736651; stroke: #24868e; stroke-opacity: 0.736651" /></g><g clip-path="url(#pd46f35ea29)"><circle cx="160.24" cy="281.95" r="2.236" style="fill: #e2e418; fill-opacity: 0.736779; stroke: #e2e418; stroke-opacity: 0.736779" /></g><g clip-path="url(#pd46f35ea29)"><circle cx="166.84" cy="270.86" r="2.236" style="fill: #aadc32; fill-opacity: 0.737076; stroke: #aadc32; stroke-opacity: 0.737076" /></g><g clip-path="url(#pd46f35ea29)"><circle cx="298.95" cy="214.76" r="2.236" style="fill: #24868e; fill-opacity: 0.74026; stroke: #24868e; stroke-opacity: 0.74026" /></g><g clip-path="url(#pd46f35ea29)"><circle cx="167.34" cy="271.46" r="2.236" style="fill: #aadc32; fill-opacity: 0.743077; stroke: #aadc32; stroke-opacity: 0.743077" /></g><g clip-path="url(#pd46f35ea29)"><circle cx="298.79" cy="214.64" r="2.236" style="fill: #25848e; fill-opacity: 0.745827; stroke: #25848e; stroke-opacity: 0.745827" /></g><g clip-path="url(#pd46f35ea29)"><circle cx="163.47" cy="279.01" r="2.236" style="fill: #cde11d; fill-opacity: 0.746781; stroke: #cde11d; stroke-opacity: 0.746781" /></g><g clip-path="url(#pd46f35ea29)"><circle cx="299.37" cy="215.26" r="2.236" style="fill: #25858e; fill-opacity: 0.748107; stroke: #25858e; stroke-opacity: 0.748107" /></g><g clip-path="url(#pd46f35ea29)"><circle cx="167.97" cy="272.03" r="2.236" style="fill: #aadc32; fill-opacity: 0.749605; stroke: #aadc32; stroke-opacity: 0.749605" /></g><g clip-path="url(#pd46f35ea29)"><circle cx="161.46" cy="283.57" r="2.236" style="fill: #e2e418; fill-opacity: 0.750721; stroke: #e2e418; stroke-opacity: 0.750721" /></g><g clip-path="url(#pd46f35ea29)"><circle cx="299.73" cy="215.68" r="2.236" style="fill: #25858e; fill-opacity: 0.751299; stroke: #25858e; stroke-opacity: 0.751299" /></g><g clip-path="url(#pd46f35ea29)"><circle cx="300.08" cy="216.11" r="2.236" style="fill: #25858e; fill-opacity: 0.754486; stroke: #25858e; stroke-opacity: 0.754486" /></g><g clip-path="url(#pd46f35ea29)"><circle cx="162.25" cy="284.22" r="2.236" style="fill: #e2e418; fill-opacity: 0.757908; stroke: #e2e418; stroke-opacity: 0.757908" /></g><g clip-path="url(#pd46f35ea29)"><circle cx="299.9" cy="216.02" r="2.236" style="fill: #25848e; fill-opacity: 0.759769; stroke: #25848e; stroke-opacity: 0.759769" /></g><g clip-path="url(#pd46f35ea29)"><circle cx="300.06" cy="216.29" r="2.236" style="fill: #25838e; fill-opacity: 0.763607; stroke: #25838e; stroke-opacity: 0.763607" /></g><g clip-path="url(#pd46f35ea29)"><circle cx="163.04" cy="284.88" r="2.236" style="fill: #dfe318; fill-opacity: 0.765021; stroke: #dfe318; stroke-opacity: 0.765021" /></g><g clip-path="url(#pd46f35ea29)"><circle cx="300.11" cy="216.46" r="2.236" style="fill: #25838e; fill-opacity: 0.767782; stroke: #25838e; stroke-opacity: 0.767782" /></g><g clip-path="url(#pd46f35ea29)"><circle cx="300.29" cy="216.78" r="2.236" style="fill: #25838e; fill-opacity: 0.771373; stroke: #25838e; stroke-opacity: 0.771373" /></g><g clip-path="url(#pd46f35ea29)"><circle cx="163.68" cy="285.77" r="2.236" style="fill: #dfe318; fill-opacity: 0.771752; stroke: #dfe318; stroke-opacity: 0.771752" /></g><g clip-path="url(#pd46f35ea29)"><circle cx="300.51" cy="217.15" r="2.236" style="fill: #25838e; fill-opacity: 0.774804; stroke: #25838e; stroke-opacity: 0.774804" /></g><g clip-path="url(#pd46f35ea29)"><circle cx="164.43" cy="286.56" r="2.236" style="fill: #dfe318; fill-opacity: 0.778604; stroke: #dfe318; stroke-opacity: 0.778604" /></g><g clip-path="url(#pd46f35ea29)"><circle cx="300.49" cy="217.29" r="2.236" style="fill: #26828e; fill-opacity: 0.779039; stroke: #26828e; stroke-opacity: 0.779039" /></g><g clip-path="url(#pd46f35ea29)"><circle cx="300.85" cy="217.83" r="2.236" style="fill: #26828e; fill-opacity: 0.7819; stroke: #26828e; stroke-opacity: 0.7819" /></g><g clip-path="url(#pd46f35ea29)"><circle cx="301.35" cy="218.52" r="2.236" style="fill: #25838e; fill-opacity: 0.784308; stroke: #25838e; stroke-opacity: 0.784308" /></g><g clip-path="url(#pd46f35ea29)"><circle cx="168.12" cy="283" r="2.236" style="fill: #c8e020; fill-opacity: 0.788591; stroke: #c8e020; stroke-opacity: 0.788591" /></g><g clip-path="url(#pd46f35ea29)"><circle cx="300.88" cy="218.26" r="2.236" style="fill: #26828e; fill-opacity: 0.789793; stroke: #26828e; stroke-opacity: 0.789793" /></g><g clip-path="url(#pd46f35ea29)"><circle cx="301.32" cy="218.92" r="2.236" style="fill: #26828e; fill-opacity: 0.792326; stroke: #26828e; stroke-opacity: 0.792326" /></g><g clip-path="url(#pd46f35ea29)"><circle cx="166.38" cy="287.63" r="2.236" style="fill: #dde318; fill-opacity: 0.79281; stroke: #dde318; stroke-opacity: 0.79281" /></g><g clip-path="url(#pd46f35ea29)"><circle cx="301.79" cy="219.63" r="2.236" style="fill: #25838e; fill-opacity: 0.794768; stroke: #25838e; stroke-opacity: 0.794768" /></g><g clip-path="url(#pd46f35ea29)"><circle cx="215.86" cy="207.33" r="2.236" style="fill: #2e6d8e; fill-opacity: 0.79721; stroke: #2e6d8e; stroke-opacity: 0.79721" /></g><g clip-path="url(#pd46f35ea29)"><circle cx="301.94" cy="220.04" r="2.236" style="fill: #25838e; fill-opacity: 0.798159; stroke: #25838e; stroke-opacity: 0.798159" /></g><g clip-path="url(#pd46f35ea29)"><circle cx="167.06" cy="288.59" r="2.236" style="fill: #dde318; fill-opacity: 0.799291; stroke: #dde318; stroke-opacity: 0.799291" /></g><g clip-path="url(#pd46f35ea29)"><circle cx="301.87" cy="220.24" r="2.236" style="fill: #25838e; fill-opacity: 0.802132; stroke: #25838e; stroke-opacity: 0.802132" /></g><g clip-path="url(#pd46f35ea29)"><circle cx="302.4" cy="221.06" r="2.236" style="fill: #25848e; fill-opacity: 0.804384; stroke: #25848e; stroke-opacity: 0.804384" /></g><g clip-path="url(#pd46f35ea29)"><circle cx="168.33" cy="288.8" r="2.236" style="fill: #dae319; fill-opacity: 0.806593; stroke: #dae319; stroke-opacity: 0.806593" /></g><g clip-path="url(#pd46f35ea29)"><circle cx="218.75" cy="204.67" r="2.236" style="fill: #31668e; fill-opacity: 0.807362; stroke: #31668e; stroke-opacity: 0.807362" /></g><g clip-path="url(#pd46f35ea29)"><circle cx="302.3" cy="221.25" r="2.236" style="fill: #25838e; fill-opacity: 0.808383; stroke: #25838e; stroke-opacity: 0.808383" /></g><g clip-path="url(#pd46f35ea29)"><circle cx="302.6" cy="221.87" r="2.236" style="fill: #25848e; fill-opacity: 0.81124; stroke: #25848e; stroke-opacity: 0.81124" /></g><g clip-path="url(#pd46f35ea29)"><circle cx="169.01" cy="289.84" r="2.236" style="fill: #dde318; fill-opacity: 0.812909; stroke: #dde318; stroke-opacity: 0.812909" /></g><g clip-path="url(#pd46f35ea29)"><circle cx="302.29" cy="221.87" r="2.236" style="fill: #25838e; fill-opacity: 0.815642; stroke: #25838e; stroke-opacity: 0.815642" /></g><g clip-path="url(#pd46f35ea29)"><circle cx="302.23" cy="222.15" r="2.236" style="fill: #25838e; fill-opacity: 0.81933; stroke: #25838e; stroke-opacity: 0.81933" /></g><g clip-path="url(#pd46f35ea29)"><circle cx="169.93" cy="290.57" r="2.236" style="fill: #dae319; fill-opacity: 0.819512; stroke: #dae319; stroke-opacity: 0.819512" /></g><g clip-path="url(#pd46f35ea29)"><circle cx="302.59" cy="222.89" r="2.236" style="fill: #25838e; fill-opacity: 0.821964; stroke: #25838e; stroke-opacity: 0.821964" /></g><g clip-path="url(#pd46f35ea29)"><circle cx="222.5" cy="201.37" r="2.236" style="fill: #365d8d; fill-opacity: 0.822313; stroke: #365d8d; stroke-opacity: 0.822313" /></g><g clip-path="url(#pd46f35ea29)"><circle cx="302.94" cy="223.63" r="2.236" style="fill: #25848e; fill-opacity: 0.824635; stroke: #25848e; stroke-opacity: 0.824635" /></g><g clip-path="url(#pd46f35ea29)"><circle cx="171.1" cy="290.99" r="2.236" style="fill: #dae319; fill-opacity: 0.826343; stroke: #dae319; stroke-opacity: 0.826343" /></g><g clip-path="url(#pd46f35ea29)"><circle cx="302.73" cy="223.79" r="2.236" style="fill: #25848e; fill-opacity: 0.828568; stroke: #25848e; stroke-opacity: 0.828568" /></g><g clip-path="url(#pd46f35ea29)"><circle cx="302.76" cy="224.21" r="2.236" style="fill: #25848e; fill-opacity: 0.831923; stroke: #25848e; stroke-opacity: 0.831923" /></g><g clip-path="url(#pd46f35ea29)"><circle cx="172.38" cy="291.26" r="2.236" style="fill: #d8e219; fill-opacity: 0.833213; stroke: #d8e219; stroke-opacity: 0.833213" /></g><g clip-path="url(#pd46f35ea29)"><circle cx="302.8" cy="224.68" r="2.236" style="fill: #25848e; fill-opacity: 0.835191; stroke: #25848e; stroke-opacity: 0.835191" /></g><g clip-path="url(#pd46f35ea29)"><circle cx="302.47" cy="224.75" r="2.236" style="fill: #25838e; fill-opacity: 0.839206; stroke: #25838e; stroke-opacity: 0.839206" /></g><g clip-path="url(#pd46f35ea29)"><circle cx="173.3" cy="292.09" r="2.236" style="fill: #d8e219; fill-opacity: 0.839517; stroke: #d8e219; stroke-opacity: 0.839517" /></g><g clip-path="url(#pd46f35ea29)"><circle cx="302.55" cy="225.27" r="2.236" style="fill: #25848e; fill-opacity: 0.84234; stroke: #25848e; stroke-opacity: 0.84234" /></g><g clip-path="url(#pd46f35ea29)"><circle cx="302.57" cy="225.77" r="2.236" style="fill: #25848e; fill-opacity: 0.84554; stroke: #25848e; stroke-opacity: 0.84554" /></g><g clip-path="url(#pd46f35ea29)"><circle cx="174.33" cy="292.77" r="2.236" style="fill: #d8e219; fill-opacity: 0.845886; stroke: #d8e219; stroke-opacity: 0.845886" /></g><g clip-path="url(#pd46f35ea29)"><circle cx="302.69" cy="226.38" r="2.236" style="fill: #25848e; fill-opacity: 0.848544; stroke: #25848e; stroke-opacity: 0.848544" /></g><g clip-path="url(#pd46f35ea29)"><circle cx="302.32" cy="226.46" r="2.236" style="fill: #25848e; fill-opacity: 0.852401; stroke: #25848e; stroke-opacity: 0.852401" /></g><g clip-path="url(#pd46f35ea29)"><circle cx="175.82" cy="292.8" r="2.236" style="fill: #d2e21b; fill-opacity: 0.852644; stroke: #d2e21b; stroke-opacity: 0.852644" /></g><g clip-path="url(#pd46f35ea29)"><circle cx="302.04" cy="226.63" r="2.236" style="fill: #25838e; fill-opacity: 0.856045; stroke: #25838e; stroke-opacity: 0.856045" /></g><g clip-path="url(#pd46f35ea29)"><circle cx="176.67" cy="293.83" r="2.236" style="fill: #d5e21a; fill-opacity: 0.858628; stroke: #d5e21a; stroke-opacity: 0.858628" /></g><g clip-path="url(#pd46f35ea29)"><circle cx="301.63" cy="226.69" r="2.236" style="fill: #26828e; fill-opacity: 0.859816; stroke: #26828e; stroke-opacity: 0.859816" /></g><g clip-path="url(#pd46f35ea29)"><circle cx="301.41" cy="226.97" r="2.236" style="fill: #26828e; fill-opacity: 0.863217; stroke: #26828e; stroke-opacity: 0.863217" /></g><g clip-path="url(#pd46f35ea29)"><circle cx="177.75" cy="294.53" r="2.236" style="fill: #d5e21a; fill-opacity: 0.86477; stroke: #d5e21a; stroke-opacity: 0.86477" /></g><g clip-path="url(#pd46f35ea29)"><circle cx="300.83" cy="226.83" r="2.236" style="fill: #26828e; fill-opacity: 0.86712; stroke: #26828e; stroke-opacity: 0.86712" /></g><g clip-path="url(#pd46f35ea29)"><circle cx="240.86" cy="183.36" r="2.236" style="fill: #472c7a; fill-opacity: 0.870411; stroke: #472c7a; stroke-opacity: 0.870411" /></g><g clip-path="url(#pd46f35ea29)"><circle cx="300.55" cy="227.06" r="2.236" style="fill: #26828e; fill-opacity: 0.870483; stroke: #26828e; stroke-opacity: 0.870483" /></g><g clip-path="url(#pd46f35ea29)"><circle cx="179.15" cy="294.75" r="2.236" style="fill: #d0e11c; fill-opacity: 0.871108; stroke: #d0e11c; stroke-opacity: 0.871108" /></g><g clip-path="url(#pd46f35ea29)"><circle cx="300.22" cy="227.24" r="2.236" style="fill: #26828e; fill-opacity: 0.873873; stroke: #26828e; stroke-opacity: 0.873873" /></g><g clip-path="url(#pd46f35ea29)"><circle cx="241.92" cy="182.43" r="2.236" style="fill: #482878; fill-opacity: 0.874225; stroke: #482878; stroke-opacity: 0.874225" /></g><g clip-path="url(#pd46f35ea29)"><circle cx="300.16" cy="227.77" r="2.236" style="fill: #26828e; fill-opacity: 0.876845; stroke: #26828e; stroke-opacity: 0.876845" /></g><g clip-path="url(#pd46f35ea29)"><circle cx="180.67" cy="294.78" r="2.236" style="fill: #cde11d; fill-opacity: 0.877419; stroke: #cde11d; stroke-opacity: 0.877419" /></g><g clip-path="url(#pd46f35ea29)"><circle cx="300.71" cy="229.08" r="2.236" style="fill: #25838e; fill-opacity: 0.879026; stroke: #25838e; stroke-opacity: 0.879026" /></g><g clip-path="url(#pd46f35ea29)"><circle cx="300.2" cy="229.09" r="2.236" style="fill: #26828e; fill-opacity: 0.882525; stroke: #26828e; stroke-opacity: 0.882525" /></g><g clip-path="url(#pd46f35ea29)"><circle cx="182.09" cy="294.97" r="2.236" style="fill: #cae11f; fill-opacity: 0.883525; stroke: #cae11f; stroke-opacity: 0.883525" /></g><g clip-path="url(#pd46f35ea29)"><circle cx="300.12" cy="229.64" r="2.236" style="fill: #25838e; fill-opacity: 0.885476; stroke: #25838e; stroke-opacity: 0.885476" /></g><g clip-path="url(#pd46f35ea29)"><circle cx="299.57" cy="229.63" r="2.236" style="fill: #26828e; fill-opacity: 0.888892; stroke: #26828e; stroke-opacity: 0.888892" /></g><g clip-path="url(#pd46f35ea29)"><circle cx="183.68" cy="294.9" r="2.236" style="fill: #c8e020; fill-opacity: 0.889613; stroke: #c8e020; stroke-opacity: 0.889613" /></g><g clip-path="url(#pd46f35ea29)"><circle cx="299.29" cy="229.95" r="2.236" style="fill: #26828e; fill-opacity: 0.891976; stroke: #26828e; stroke-opacity: 0.891976" /></g><g clip-path="url(#pd46f35ea29)"><circle cx="185.45" cy="294.5" r="2.236" style="fill: #c0df25; fill-opacity: 0.895673; stroke: #c0df25; stroke-opacity: 0.895673" /></g><g clip-path="url(#pd46f35ea29)"><circle cx="298.28" cy="229.35" r="2.236" style="fill: #26818e; fill-opacity: 0.895693; stroke: #26818e; stroke-opacity: 0.895693" /></g><g clip-path="url(#pd46f35ea29)"><circle cx="298.17" cy="229.93" r="2.236" style="fill: #26818e; fill-opacity: 0.898493; stroke: #26818e; stroke-opacity: 0.898493" /></g><g clip-path="url(#pd46f35ea29)"><circle cx="298" cy="230.45" r="2.236" style="fill: #26828e; fill-opacity: 0.90133; stroke: #26828e; stroke-opacity: 0.90133" /></g><g clip-path="url(#pd46f35ea29)"><circle cx="187.25" cy="294.03" r="2.236" style="fill: #bade28; fill-opacity: 0.901579; stroke: #bade28; stroke-opacity: 0.901579" /></g><g clip-path="url(#pd46f35ea29)"><circle cx="297.42" cy="230.44" r="2.236" style="fill: #26818e; fill-opacity: 0.904446; stroke: #26818e; stroke-opacity: 0.904446" /></g><g clip-path="url(#pd46f35ea29)"><circle cx="297.45" cy="231.27" r="2.236" style="fill: #26828e; fill-opacity: 0.907071; stroke: #26828e; stroke-opacity: 0.907071" /></g><g clip-path="url(#pd46f35ea29)"><circle cx="189.57" cy="292.59" r="2.236" style="fill: #b0dd2f; fill-opacity: 0.907545; stroke: #b0dd2f; stroke-opacity: 0.907545" /></g><g clip-path="url(#pd46f35ea29)"><circle cx="297.52" cy="232.2" r="2.236" style="fill: #26828e; fill-opacity: 0.909673; stroke: #26828e; stroke-opacity: 0.909673" /></g><g clip-path="url(#pd46f35ea29)"><circle cx="296.97" cy="232.25" r="2.236" style="fill: #26828e; fill-opacity: 0.912649; stroke: #26828e; stroke-opacity: 0.912649" /></g><g clip-path="url(#pd46f35ea29)"><circle cx="191.28" cy="292.22" r="2.236" style="fill: #aadc32; fill-opacity: 0.913039; stroke: #aadc32; stroke-opacity: 0.913039" /></g><g clip-path="url(#pd46f35ea29)"><circle cx="296.93" cy="233.07" r="2.236" style="fill: #25838e; fill-opacity: 0.915296; stroke: #25838e; stroke-opacity: 0.915296" /></g><g clip-path="url(#pd46f35ea29)"><circle cx="296.3" cy="233.06" r="2.236" style="fill: #26828e; fill-opacity: 0.918206; stroke: #26828e; stroke-opacity: 0.918206" /></g><g clip-path="url(#pd46f35ea29)"><circle cx="193.48" cy="290.89" r="2.236" style="fill: #a2da37; fill-opacity: 0.918522; stroke: #a2da37; stroke-opacity: 0.918522" /></g><g clip-path="url(#pd46f35ea29)"><circle cx="295.73" cy="233.12" r="2.236" style="fill: #26828e; fill-opacity: 0.92103; stroke: #26828e; stroke-opacity: 0.92103" /></g><g clip-path="url(#pd46f35ea29)"><circle cx="295.86" cy="234.27" r="2.236" style="fill: #25838e; fill-opacity: 0.923562; stroke: #25838e; stroke-opacity: 0.923562" /></g><g clip-path="url(#pd46f35ea29)"><circle cx="195" cy="290.84" r="2.236" style="fill: #9dd93b; fill-opacity: 0.923622; stroke: #9dd93b; stroke-opacity: 0.923622" /></g><g clip-path="url(#pd46f35ea29)"><circle cx="295.35" cy="234.47" r="2.236" style="fill: #25838e; fill-opacity: 0.926291; stroke: #25838e; stroke-opacity: 0.926291" /></g><g clip-path="url(#pd46f35ea29)"><circle cx="197" cy="289.83" r="2.236" style="fill: #95d840; fill-opacity: 0.928661; stroke: #95d840; stroke-opacity: 0.928661" /></g><g clip-path="url(#pd46f35ea29)"><circle cx="295.05" cy="235.01" r="2.236" style="fill: #25838e; fill-opacity: 0.928928; stroke: #25838e; stroke-opacity: 0.928928" /></g><g clip-path="url(#pd46f35ea29)"><circle cx="294.6" cy="235.34" r="2.236" style="fill: #25838e; fill-opacity: 0.931564; stroke: #25838e; stroke-opacity: 0.931564" /></g><g clip-path="url(#pd46f35ea29)"><circle cx="198.64" cy="289.51" r="2.236" style="fill: #93d741; fill-opacity: 0.933475; stroke: #93d741; stroke-opacity: 0.933475" /></g><g clip-path="url(#pd46f35ea29)"><circle cx="253.38" cy="173.19" r="2.236" style="fill: #440154; fill-opacity: 0.933917; stroke: #440154; stroke-opacity: 0.933917" /></g><g clip-path="url(#pd46f35ea29)"><circle cx="294.45" cy="236.16" r="2.236" style="fill: #25848e; fill-opacity: 0.93414; stroke: #25848e; stroke-opacity: 0.93414" /></g><g clip-path="url(#pd46f35ea29)"><circle cx="293.44" cy="235.61" r="2.236" style="fill: #25838e; fill-opacity: 0.93672; stroke: #25838e; stroke-opacity: 0.93672" /></g><g clip-path="url(#pd46f35ea29)"><circle cx="200.51" cy="288.68" r="2.236" style="fill: #8bd646; fill-opacity: 0.938138; stroke: #8bd646; stroke-opacity: 0.938138" /></g><g clip-path="url(#pd46f35ea29)"><circle cx="292.62" cy="235.35" r="2.236" style="fill: #26828e; fill-opacity: 0.939203; stroke: #26828e; stroke-opacity: 0.939203" /></g><g clip-path="url(#pd46f35ea29)"><circle cx="292.43" cy="236.19" r="2.236" style="fill: #25838e; fill-opacity: 0.941683; stroke: #25838e; stroke-opacity: 0.941683" /></g><g clip-path="url(#pd46f35ea29)"><circle cx="201.85" cy="288.98" r="2.236" style="fill: #8bd646; fill-opacity: 0.942674; stroke: #8bd646; stroke-opacity: 0.942674" /></g><g clip-path="url(#pd46f35ea29)"><circle cx="291.85" cy="236.37" r="2.236" style="fill: #25838e; fill-opacity: 0.944089; stroke: #25838e; stroke-opacity: 0.944089" /></g><g clip-path="url(#pd46f35ea29)"><circle cx="291.36" cy="236.73" r="2.236" style="fill: #25838e; fill-opacity: 0.94647; stroke: #25838e; stroke-opacity: 0.94647" /></g><g clip-path="url(#pd46f35ea29)"><circle cx="203.38" cy="288.86" r="2.236" style="fill: #89d548; fill-opacity: 0.947079; stroke: #89d548; stroke-opacity: 0.947079" /></g><g clip-path="url(#pd46f35ea29)"><circle cx="290.69" cy="236.77" r="2.236" style="fill: #26828e; fill-opacity: 0.948755; stroke: #26828e; stroke-opacity: 0.948755" /></g><g clip-path="url(#pd46f35ea29)"><circle cx="290.31" cy="237.36" r="2.236" style="fill: #25838e; fill-opacity: 0.9511; stroke: #25838e; stroke-opacity: 0.9511" /></g><g clip-path="url(#pd46f35ea29)"><circle cx="204.75" cy="289.11" r="2.236" style="fill: #86d549; fill-opacity: 0.951405; stroke: #86d549; stroke-opacity: 0.951405" /></g><g clip-path="url(#pd46f35ea29)"><circle cx="289.43" cy="237.04" r="2.236" style="fill: #26828e; fill-opacity: 0.953194; stroke: #26828e; stroke-opacity: 0.953194" /></g><g clip-path="url(#pd46f35ea29)"><circle cx="288.67" cy="236.95" r="2.236" style="fill: #26828e; fill-opacity: 0.955267; stroke: #26828e; stroke-opacity: 0.955267" /></g><g clip-path="url(#pd46f35ea29)"><circle cx="206.07" cy="289.49" r="2.236" style="fill: #86d549; fill-opacity: 0.955653; stroke: #86d549; stroke-opacity: 0.955653" /></g><g clip-path="url(#pd46f35ea29)"><circle cx="288.35" cy="237.71" r="2.236" style="fill: #26828e; fill-opacity: 0.957542; stroke: #26828e; stroke-opacity: 0.957542" /></g><g clip-path="url(#pd46f35ea29)"><circle cx="287.81" cy="238.09" r="2.236" style="fill: #25838e; fill-opacity: 0.959669; stroke: #25838e; stroke-opacity: 0.959669" /></g><g clip-path="url(#pd46f35ea29)"><circle cx="207.47" cy="289.7" r="2.236" style="fill: #84d44b; fill-opacity: 0.959782; stroke: #84d44b; stroke-opacity: 0.959782" /></g><g clip-path="url(#pd46f35ea29)"><circle cx="287.1" cy="238.12" r="2.236" style="fill: #26828e; fill-opacity: 0.961625; stroke: #26828e; stroke-opacity: 0.961625" /></g><g clip-path="url(#pd46f35ea29)"><circle cx="286.19" cy="237.75" r="2.236" style="fill: #26828e; fill-opacity: 0.963364; stroke: #26828e; stroke-opacity: 0.963364" /></g><g clip-path="url(#pd46f35ea29)"><circle cx="209" cy="289.59" r="2.236" style="fill: #81d34d; fill-opacity: 0.963736; stroke: #81d34d; stroke-opacity: 0.963736" /></g><g clip-path="url(#pd46f35ea29)"><circle cx="285.73" cy="238.33" r="2.236" style="fill: #26828e; fill-opacity: 0.96543; stroke: #26828e; stroke-opacity: 0.96543" /></g><g clip-path="url(#pd46f35ea29)"><circle cx="229.05" cy="250.67" r="2.236" style="fill: #1f978b; fill-opacity: 0.967069; stroke: #1f978b; stroke-opacity: 0.967069" /></g><g clip-path="url(#pd46f35ea29)"><circle cx="285.13" cy="238.64" r="2.236" style="fill: #26828e; fill-opacity: 0.967339; stroke: #26828e; stroke-opacity: 0.967339" /></g><g clip-path="url(#pd46f35ea29)"><circle cx="210.34" cy="289.98" r="2.236" style="fill: #81d34d; fill-opacity: 0.967702; stroke: #81d34d; stroke-opacity: 0.967702" /></g><g clip-path="url(#pd46f35ea29)"><circle cx="284.45" cy="238.8" r="2.236" style="fill: #26828e; fill-opacity: 0.969136; stroke: #26828e; stroke-opacity: 0.969136" /></g><g clip-path="url(#pd46f35ea29)"><circle cx="230.03" cy="250.73" r="2.236" style="fill: #1f978b; fill-opacity: 0.969312; stroke: #1f978b; stroke-opacity: 0.969312" /></g><g clip-path="url(#pd46f35ea29)"><circle cx="283.77" cy="238.95" r="2.236" style="fill: #26828e; fill-opacity: 0.970874; stroke: #26828e; stroke-opacity: 0.970874" /></g><g clip-path="url(#pd46f35ea29)"><circle cx="231.05" cy="250.61" r="2.236" style="fill: #1f968b; fill-opacity: 0.971408; stroke: #1f968b; stroke-opacity: 0.971408" /></g><g clip-path="url(#pd46f35ea29)"><circle cx="211.84" cy="289.93" r="2.236" style="fill: #7fd34e; fill-opacity: 0.971449; stroke: #7fd34e; stroke-opacity: 0.971449" /></g><g clip-path="url(#pd46f35ea29)"><circle cx="283.5" cy="240.11" r="2.236" style="fill: #25848e; fill-opacity: 0.973093; stroke: #25848e; stroke-opacity: 0.973093" /></g><g clip-path="url(#pd46f35ea29)"><circle cx="231.95" cy="250.95" r="2.236" style="fill: #1f968b; fill-opacity: 0.973634; stroke: #1f968b; stroke-opacity: 0.973634" /></g><g clip-path="url(#pd46f35ea29)"><circle cx="282.73" cy="240.12" r="2.236" style="fill: #25838e; fill-opacity: 0.974674; stroke: #25838e; stroke-opacity: 0.974674" /></g><g clip-path="url(#pd46f35ea29)"><circle cx="213.27" cy="290.11" r="2.236" style="fill: #7fd34e; fill-opacity: 0.975157; stroke: #7fd34e; stroke-opacity: 0.975157" /></g><g clip-path="url(#pd46f35ea29)"><circle cx="233.13" cy="250.27" r="2.236" style="fill: #1f958b; fill-opacity: 0.975312; stroke: #1f958b; stroke-opacity: 0.975312" /></g><g clip-path="url(#pd46f35ea29)"><circle cx="282.25" cy="240.85" r="2.236" style="fill: #25848e; fill-opacity: 0.976606; stroke: #25848e; stroke-opacity: 0.976606" /></g><g clip-path="url(#pd46f35ea29)"><circle cx="234.16" cy="250.08" r="2.236" style="fill: #1f948c; fill-opacity: 0.97714; stroke: #1f948c; stroke-opacity: 0.97714" /></g><g clip-path="url(#pd46f35ea29)"><circle cx="281.84" cy="241.8" r="2.236" style="fill: #24868e; fill-opacity: 0.97864; stroke: #24868e; stroke-opacity: 0.97864" /></g><g clip-path="url(#pd46f35ea29)"><circle cx="214.46" cy="290.98" r="2.236" style="fill: #7fd34e; fill-opacity: 0.979011; stroke: #7fd34e; stroke-opacity: 0.979011" /></g><g clip-path="url(#pd46f35ea29)"><circle cx="235.07" cy="250.35" r="2.236" style="fill: #1f948c; fill-opacity: 0.979134; stroke: #1f948c; stroke-opacity: 0.979134" /></g><g clip-path="url(#pd46f35ea29)"><circle cx="281.12" cy="242.02" r="2.236" style="fill: #24868e; fill-opacity: 0.980199; stroke: #24868e; stroke-opacity: 0.980199" /></g><g clip-path="url(#pd46f35ea29)"><circle cx="236.08" cy="250.24" r="2.236" style="fill: #20938c; fill-opacity: 0.980855; stroke: #20938c; stroke-opacity: 0.980855" /></g><g clip-path="url(#pd46f35ea29)"><circle cx="280.52" cy="242.58" r="2.236" style="fill: #24868e; fill-opacity: 0.981927; stroke: #24868e; stroke-opacity: 0.981927" /></g><g clip-path="url(#pd46f35ea29)"><circle cx="237.27" cy="249.31" r="2.236" style="fill: #20928c; fill-opacity: 0.982027; stroke: #20928c; stroke-opacity: 0.982027" /></g><g clip-path="url(#pd46f35ea29)"><circle cx="279.6" cy="242.27" r="2.236" style="fill: #25858e; fill-opacity: 0.983049; stroke: #25858e; stroke-opacity: 0.983049" /></g><g clip-path="url(#pd46f35ea29)"><circle cx="238.25" cy="249.25" r="2.236" style="fill: #20928c; fill-opacity: 0.983619; stroke: #20928c; stroke-opacity: 0.983619" /></g><g clip-path="url(#pd46f35ea29)"><circle cx="278.82" cy="242.34" r="2.236" style="fill: #25858e; fill-opacity: 0.984347; stroke: #25858e; stroke-opacity: 0.984347" /></g><g clip-path="url(#pd46f35ea29)"><circle cx="277.88" cy="241.96" r="2.236" style="fill: #25848e; fill-opacity: 0.985285; stroke: #25848e; stroke-opacity: 0.985285" /></g><g clip-path="url(#pd46f35ea29)"><circle cx="239.17" cy="249.49" r="2.236" style="fill: #20928c; fill-opacity: 0.985321; stroke: #20928c; stroke-opacity: 0.985321" /></g><g clip-path="url(#pd46f35ea29)"><circle cx="240.26" cy="248.85" r="2.236" style="fill: #21918c; fill-opacity: 0.986405; stroke: #21918c; stroke-opacity: 0.986405" /></g><g clip-path="url(#pd46f35ea29)"><circle cx="277.08" cy="241.98" r="2.236" style="fill: #25848e; fill-opacity: 0.986431; stroke: #25848e; stroke-opacity: 0.986431" /></g><g clip-path="url(#pd46f35ea29)"><circle cx="276.2" cy="241.78" r="2.236" style="fill: #25848e; fill-opacity: 0.987359; stroke: #25848e; stroke-opacity: 0.987359" /></g><g clip-path="url(#pd46f35ea29)"><circle cx="241.24" cy="248.74" r="2.236" style="fill: #21908d; fill-opacity: 0.987752; stroke: #21908d; stroke-opacity: 0.987752" /></g><g clip-path="url(#pd46f35ea29)"><circle cx="275.44" cy="241.94" r="2.236" style="fill: #25848e; fill-opacity: 0.988481; stroke: #25848e; stroke-opacity: 0.988481" /></g><g clip-path="url(#pd46f35ea29)"><circle cx="242.12" cy="249.2" r="2.236" style="fill: #21918c; fill-opacity: 0.989413; stroke: #21918c; stroke-opacity: 0.989413" /></g><g clip-path="url(#pd46f35ea29)"><circle cx="274.78" cy="242.5" r="2.236" style="fill: #25848e; fill-opacity: 0.989861; stroke: #25848e; stroke-opacity: 0.989861" /></g><g clip-path="url(#pd46f35ea29)"><circle cx="243.2" cy="248.42" r="2.236" style="fill: #218f8d; fill-opacity: 0.990157; stroke: #218f8d; stroke-opacity: 0.990157" /></g><g clip-path="url(#pd46f35ea29)"><circle cx="244.24" cy="247.73" r="2.236" style="fill: #218e8d; fill-opacity: 0.990885; stroke: #218e8d; stroke-opacity: 0.990885" /></g><g clip-path="url(#pd46f35ea29)"><circle cx="274.11" cy="243.04" r="2.236" style="fill: #25858e; fill-opacity: 0.991173; stroke: #25858e; stroke-opacity: 0.991173" /></g><g clip-path="url(#pd46f35ea29)"><circle cx="245.25" cy="247.18" r="2.236" style="fill: #228d8d; fill-opacity: 0.99162; stroke: #228d8d; stroke-opacity: 0.99162" /></g><g clip-path="url(#pd46f35ea29)"><circle cx="246.29" cy="246.21" r="2.236" style="fill: #228b8d; fill-opacity: 0.991967; stroke: #228b8d; stroke-opacity: 0.991967" /></g><g clip-path="url(#pd46f35ea29)"><circle cx="273.42" cy="243.61" r="2.236" style="fill: #24868e; fill-opacity: 0.992459; stroke: #24868e; stroke-opacity: 0.992459" /></g><g clip-path="url(#pd46f35ea29)"><circle cx="247.22" cy="246.11" r="2.236" style="fill: #238a8d; fill-opacity: 0.992889; stroke: #238a8d; stroke-opacity: 0.992889" /></g><g clip-path="url(#pd46f35ea29)"><circle cx="272.67" cy="243.99" r="2.236" style="fill: #24868e; fill-opacity: 0.993555; stroke: #24868e; stroke-opacity: 0.993555" /></g><g clip-path="url(#pd46f35ea29)"><circle cx="248.15" cy="245.97" r="2.236" style="fill: #238a8d; fill-opacity: 0.993706; stroke: #238a8d; stroke-opacity: 0.993706" /></g><g clip-path="url(#pd46f35ea29)"><circle cx="271.84" cy="244.06" r="2.236" style="fill: #24868e; fill-opacity: 0.994355; stroke: #24868e; stroke-opacity: 0.994355" /></g><g clip-path="url(#pd46f35ea29)"><circle cx="249.07" cy="245.85" r="2.236" style="fill: #238a8d; fill-opacity: 0.994476; stroke: #238a8d; stroke-opacity: 0.994476" /></g><g clip-path="url(#pd46f35ea29)"><circle cx="249.98" cy="245.84" r="2.236" style="fill: #23898e; fill-opacity: 0.995267; stroke: #23898e; stroke-opacity: 0.995267" /></g><g clip-path="url(#pd46f35ea29)"><circle cx="271.15" cy="244.74" r="2.236" style="fill: #24878e; fill-opacity: 0.995588; stroke: #24878e; stroke-opacity: 0.995588" /></g><g clip-path="url(#pd46f35ea29)"><circle cx="250.9" cy="245.78" r="2.236" style="fill: #23898e; fill-opacity: 0.995962; stroke: #23898e; stroke-opacity: 0.995962" /></g><g clip-path="url(#pd46f35ea29)"><circle cx="251.83" cy="245.09" r="2.236" style="fill: #23888e; fill-opacity: 0.996086; stroke: #23888e; stroke-opacity: 0.996086" /></g><g clip-path="url(#pd46f35ea29)"><circle cx="270.27" cy="244.64" r="2.236" style="fill: #24878e; fill-opacity: 0.996136; stroke: #24878e; stroke-opacity: 0.996136" /></g><g clip-path="url(#pd46f35ea29)"><circle cx="252.75" cy="244.41" r="2.236" style="fill: #24878e; fill-opacity: 0.996149; stroke: #24878e; stroke-opacity: 0.996149" /></g><g clip-path="url(#pd46f35ea29)"><circle cx="253.64" cy="243.82" r="2.236" style="fill: #24868e; fill-opacity: 0.996212; stroke: #24868e; stroke-opacity: 0.996212" /></g><g clip-path="url(#pd46f35ea29)"><circle cx="254.52" cy="243.7" r="2.236" style="fill: #25858e; fill-opacity: 0.996593; stroke: #25858e; stroke-opacity: 0.996593" /></g><g clip-path="url(#pd46f35ea29)"><circle cx="255.4" cy="243.55" r="2.236" style="fill: #25858e; fill-opacity: 0.996896; stroke: #25858e; stroke-opacity: 0.996896" /></g><g clip-path="url(#pd46f35ea29)"><circle cx="269.46" cy="244.89" r="2.236" style="fill: #24878e; fill-opacity: 0.99691; stroke: #24878e; stroke-opacity: 0.99691" /></g><g clip-path="url(#pd46f35ea29)"><circle cx="268.52" cy="244.51" r="2.236" style="fill: #24878e; fill-opacity: 0.997108; stroke: #24878e; stroke-opacity: 0.997108" /></g><g clip-path="url(#pd46f35ea29)"><circle cx="256.27" cy="243.54" r="2.236" style="fill: #25858e; fill-opacity: 0.997254; stroke: #25858e; stroke-opacity: 0.997254" /></g><g clip-path="url(#pd46f35ea29)"><circle cx="267.61" cy="244.24" r="2.236" style="fill: #24868e; fill-opacity: 0.997332; stroke: #24868e; stroke-opacity: 0.997332" /></g><g clip-path="url(#pd46f35ea29)"><circle cx="266.8" cy="244.54" r="2.236" style="fill: #24868e; fill-opacity: 0.997974; stroke: #24868e; stroke-opacity: 0.997974" /></g><g clip-path="url(#pd46f35ea29)"><circle cx="258.89" cy="243.62" r="2.236" style="fill: #25858e; fill-opacity: 0.998076; stroke: #25858e; stroke-opacity: 0.998076" /></g><g clip-path="url(#pd46f35ea29)"><circle cx="257.17" cy="244.34" r="2.236" style="fill: #24868e; fill-opacity: 0.998241; stroke: #24868e; stroke-opacity: 0.998241" /></g><g clip-path="url(#pd46f35ea29)"><circle cx="258.05" cy="244.29" r="2.236" style="fill: #24868e; fill-opacity: 0.998447; stroke: #24868e; stroke-opacity: 0.998447" /></g><g clip-path="url(#pd46f35ea29)"><circle cx="259.78" cy="244.01" r="2.236" style="fill: #25858e; fill-opacity: 0.998536; stroke: #25858e; stroke-opacity: 0.998536" /></g><g clip-path="url(#pd46f35ea29)"><circle cx="266.03" cy="245.18" r="2.236" style="fill: #24878e; fill-opacity: 0.998842; stroke: #24878e; stroke-opacity: 0.998842" /></g><g clip-path="url(#pd46f35ea29)"><circle cx="260.68" cy="244.34" r="2.236" style="fill: #24868e; fill-opacity: 0.998899; stroke: #24868e; stroke-opacity: 0.998899" /></g><g clip-path="url(#pd46f35ea29)"><circle cx="261.56" cy="244.43" r="2.236" style="fill: #24868e; fill-opacity: 0.998994; stroke: #24868e; stroke-opacity: 0.998994" /></g><g clip-path="url(#pd46f35ea29)"><circle cx="265.15" cy="245.19" r="2.236" style="fill: #24878e; fill-opacity: 0.999129; stroke: #24878e; stroke-opacity: 0.999129" /></g><g clip-path="url(#pd46f35ea29)"><circle cx="262.46" cy="244.64" r="2.236" style="fill: #24868e; fill-opacity: 0.999134; stroke: #24868e; stroke-opacity: 0.999134" /></g><g clip-path="url(#pd46f35ea29)"><circle cx="263.44" cy="245.52" r="2.236" style="fill: #23888e; fill-opacity: 0.99979; stroke: #23888e; stroke-opacity: 0.99979" /></g><g clip-path="url(#pd46f35ea29)"><circle cx="264.38" cy="245.96" r="2.236" style="fill: #23898e; stroke: #23898e" /></g></g><g><text style="font-size: 12px; font-family: 'DejaVu Sans', sans-serif; text-anchor: middle" x="224.64" y="77.65" transform="translate(-0.360 0.000) translate(224.64 77.65) scale(0.9943 1.1000) translate(-224.64 -77.65)">3D Coordinate Graph</text></g></g><g><g><path d="M 156.96 583.2 L 292.32 583.2 L 292.32 426.24 L 156.96 426.24 z" style="fill: #ffffff" /></g><g><g clip-path="url(#p9a0f7176bb)"><circle cx="285.45" cy="503.02" r="3" style="stroke: #ff0000;fill: #ff0000; stroke: #ff0000" /><circle cx="285.12" cy="502.36" r="3" style="stroke: #ff0000;fill: #ff0000; stroke: #ff0000" /><circle cx="285.33" cy="501.69" r="3" style="stroke: #ff0000;fill: #ff0000; stroke: #ff0000" /><circle cx="285.18" cy="501.03" r="3" style="stroke: #ff0000;fill: #ff0000; stroke: #ff0000" /><circle cx="284.98" cy="500.38" r="3" style="stroke: #ff0000;fill: #ff0000; stroke: #ff0000" /><circle cx="285.55" cy="499.67" r="3" style="stroke: #ff0000;fill: #ff0000; stroke: #ff0000" /><circle cx="285.5" cy="499" r="3" style="stroke: #ff0000;fill: #ff0000; stroke: #ff0000" /><circle cx="285.67" cy="498.3" r="3" style="stroke: #ff0000;fill: #ff0000; stroke: #ff0000" /><circle cx="285.44" cy="497.65" r="3" style="stroke: #ff0000;fill: #ff0000; stroke: #ff0000" /><circle cx="285.58" cy="496.94" r="3" style="stroke: #ff0000;fill: #ff0000; stroke: #ff0000" /><circle cx="284.83" cy="496.38" r="3" style="stroke: #ff0000;fill: #ff0000; stroke: #ff0000" /><circle cx="284.59" cy="495.75" r="3" style="stroke: #ff0000;fill: #ff0000; stroke: #ff0000" /><circle cx="284.58" cy="495.07" r="3" style="stroke: #ff0000;fill: #ff0000; stroke: #ff0000" /><circle cx="284.52" cy="494.4" r="3" style="stroke: #ff0000;fill: #ff0000; stroke: #ff0000" /><circle cx="284.71" cy="493.66" r="3" style="stroke: #ff0000;fill: #ff0000; stroke: #ff0000" /><circle cx="284.6" cy="493" r="3" style="stroke: #ff0000;fill: #ff0000; stroke: #ff0000" /><circle cx="284.64" cy="492.28" r="3" style="stroke: #ff0000;fill: #ff0000; stroke: #ff0000" /><circle cx="284.59" cy="491.59" r="3" style="stroke: #ff0000;fill: #ff0000; stroke: #ff0000" /><circle cx="284.6" cy="490.87" r="3" style="stroke: #ff0000;fill: #ff0000; stroke: #ff0000" /><circle cx="284.22" cy="490.27" r="3" style="stroke: #ff0000;fill: #ff0000; stroke: #ff0000" /><circle cx="283.92" cy="489.65" r="3" style="stroke: #ff0000;fill: #ff0000; stroke: #ff0000" /><circle cx="283.58" cy="489.05" r="3" style="stroke: #ff0000;fill: #ff0000; stroke: #ff0000" /><circle cx="283.55" cy="488.33" r="3" style="stroke: #ff0000;fill: #ff0000; stroke: #ff0000" /><circle cx="283.23" cy="487.72" r="3" style="stroke: #ff0000;fill: #ff0000; stroke: #ff0000" /><circle cx="282.94" cy="487.1" r="3" style="stroke: #ff0000;fill: #ff0000; stroke: #ff0000" /><circle cx="282.81" cy="486.41" r="3" style="stroke: #ff0000;fill: #ff0000; stroke: #ff0000" /><circle cx="282.27" cy="485.91" r="3" style="stroke: #ff0000;fill: #ff0000; stroke: #ff0000" /><circle cx="281.73" cy="485.42" r="3" style="stroke: #ff0000;fill: #ff0000; stroke: #ff0000" /><circle cx="281.49" cy="484.78" r="3" style="stroke: #ff0000;fill: #ff0000; stroke: #ff0000" /><circle cx="281.44" cy="484.03" r="3" style="stroke: #ff0000;fill: #ff0000; stroke: #ff0000" /><circle cx="280.94" cy="483.53" r="3" style="stroke: #ff0000;fill: #ff0000; stroke: #ff0000" /><circle cx="280.74" cy="482.86" r="3" style="stroke: #ff0000;fill: #ff0000; stroke: #ff0000" /><circle cx="280.08" cy="482.46" r="3" style="stroke: #ff0000;fill: #ff0000; stroke: #ff0000" /><circle cx="279.85" cy="481.81" r="3" style="stroke: #ff0000;fill: #ff0000; stroke: #ff0000" /><circle cx="279.46" cy="481.25" r="3" style="stroke: #ff0000;fill: #ff0000; stroke: #ff0000" /><circle cx="278.86" cy="480.84" r="3" style="stroke: #ff0000;fill: #ff0000; stroke: #ff0000" /><circle cx="278.28" cy="480.43" r="3" style="stroke: #ff0000;fill: #ff0000; stroke: #ff0000" /><circle cx="278.32" cy="479.56" r="3" style="stroke: #ff0000;fill: #ff0000; stroke: #ff0000" /><circle cx="277.7" cy="479.18" r="3" style="stroke: #ff0000;fill: #ff0000; stroke: #ff0000" /><circle cx="277.17" cy="478.73" r="3" style="stroke: #ff0000;fill: #ff0000; stroke: #ff0000" /><circle cx="276.91" cy="478.08" r="3" style="stroke: #ff0000;fill: #ff0000; stroke: #ff0000" /><circle cx="276.48" cy="477.56" r="3" style="stroke: #ff0000;fill: #ff0000; stroke: #ff0000" /><circle cx="276.07" cy="477.01" r="3" style="stroke: #ff0000;fill: #ff0000; stroke: #ff0000" /><circle cx="275.74" cy="476.39" r="3" style="stroke: #ff0000;fill: #ff0000; stroke: #ff0000" /><circle cx="275.35" cy="475.82" r="3" style="stroke: #ff0000;fill: #ff0000; stroke: #ff0000" /><circle cx="275.17" cy="475.03" r="3" style="stroke: #ff0000;fill: #ff0000; stroke: #ff0000" /><circle cx="274.65" cy="474.57" r="3" style="stroke: #ff0000;fill: #ff0000; stroke: #ff0000" /><circle cx="274.13" cy="474.13" r="3" style="stroke: #ff0000;fill: #ff0000; stroke: #ff0000" /><circle cx="273.47" cy="473.83" r="3" style="stroke: #ff0000;fill: #ff0000; stroke: #ff0000" /><circle cx="273.26" cy="473.02" r="3" style="stroke: #ff0000;fill: #ff0000; stroke: #ff0000" /><circle cx="272.77" cy="472.53" r="3" style="stroke: #ff0000;fill: #ff0000; stroke: #ff0000" /><circle cx="272.24" cy="472.08" r="3" style="stroke: #ff0000;fill: #ff0000; stroke: #ff0000" /><circle cx="271.78" cy="471.53" r="3" style="stroke: #ff0000;fill: #ff0000; stroke: #ff0000" /><circle cx="270.97" cy="471.44" r="3" style="stroke: #ff0000;fill: #ff0000; stroke: #ff0000" /><circle cx="270.38" cy="471.09" r="3" style="stroke: #ff0000;fill: #ff0000; stroke: #ff0000" /><circle cx="269.77" cy="470.76" r="3" style="stroke: #ff0000;fill: #ff0000; stroke: #ff0000" /><circle cx="269.2" cy="470.38" r="3" style="stroke: #ff0000;fill: #ff0000; stroke: #ff0000" /><circle cx="268.71" cy="469.87" r="3" style="stroke: #ff0000;fill: #ff0000; stroke: #ff0000" /><circle cx="268.27" cy="469.27" r="3" style="stroke: #ff0000;fill: #ff0000; stroke: #ff0000" /><circle cx="267.66" cy="468.94" r="3" style="stroke: #ff0000;fill: #ff0000; stroke: #ff0000" /><circle cx="266.94" cy="468.8" r="3" style="stroke: #ff0000;fill: #ff0000; stroke: #ff0000" /><circle cx="266.42" cy="468.32" r="3" style="stroke: #ff0000;fill: #ff0000; stroke: #ff0000" /><circle cx="265.91" cy="467.8" r="3" style="stroke: #ff0000;fill: #ff0000; stroke: #ff0000" /><circle cx="265.35" cy="467.35" r="3" style="stroke: #ff0000;fill: #ff0000; stroke: #ff0000" /><circle cx="264.55" cy="467.41" r="3" style="stroke: #ff0000;fill: #ff0000; stroke: #ff0000" /><circle cx="264.05" cy="466.85" r="3" style="stroke: #ff0000;fill: #ff0000; stroke: #ff0000" /><circle cx="263.42" cy="466.55" r="3" style="stroke: #ff0000;fill: #ff0000; stroke: #ff0000" /><circle cx="262.72" cy="466.4" r="3" style="stroke: #ff0000;fill: #ff0000; stroke: #ff0000" /><circle cx="262.18" cy="465.9" r="3" style="stroke: #ff0000;fill: #ff0000; stroke: #ff0000" /><circle cx="261.64" cy="465.35" r="3" style="stroke: #ff0000;fill: #ff0000; stroke: #ff0000" /><circle cx="261.02" cy="464.99" r="3" style="stroke: #ff0000;fill: #ff0000; stroke: #ff0000" /><circle cx="260.41" cy="464.6" r="3" style="stroke: #ff0000;fill: #ff0000; stroke: #ff0000" /><circle cx="259.79" cy="464.21" r="3" style="stroke: #ff0000;fill: #ff0000; stroke: #ff0000" /><circle cx="259.16" cy="463.84" r="3" style="stroke: #ff0000;fill: #ff0000; stroke: #ff0000" /><circle cx="258.49" cy="463.57" r="3" style="stroke: #ff0000;fill: #ff0000; stroke: #ff0000" /><circle cx="257.78" cy="463.44" r="3" style="stroke: #ff0000;fill: #ff0000; stroke: #ff0000" /><circle cx="257.25" cy="462.65" r="3" style="stroke: #ff0000;fill: #ff0000; stroke: #ff0000" /><circle cx="256.53" cy="462.52" r="3" style="stroke: #ff0000;fill: #ff0000; stroke: #ff0000" /><circle cx="255.86" cy="462.17" r="3" style="stroke: #ff0000;fill: #ff0000; stroke: #ff0000" /><circle cx="255.21" cy="461.68" r="3" style="stroke: #ff0000;fill: #ff0000; stroke: #ff0000" /><circle cx="254.57" cy="461.09" r="3" style="stroke: #ff0000;fill: #ff0000; stroke: #ff0000" /><circle cx="253.81" cy="461.16" r="3" style="stroke: #ff0000;fill: #ff0000; stroke: #ff0000" /><circle cx="253.07" cy="461.11" r="3" style="stroke: #ff0000;fill: #ff0000; stroke: #ff0000" /><circle cx="252.34" cy="460.98" r="3" style="stroke: #ff0000;fill: #ff0000; stroke: #ff0000" /><circle cx="251.61" cy="460.89" r="3" style="stroke: #ff0000;fill: #ff0000; stroke: #ff0000" /><circle cx="250.87" cy="460.89" r="3" style="stroke: #ff0000;fill: #ff0000; stroke: #ff0000" /><circle cx="250.14" cy="460.7" r="3" style="stroke: #ff0000;fill: #ff0000; stroke: #ff0000" /><circle cx="249.41" cy="460.39" r="3" style="stroke: #ff0000;fill: #ff0000; stroke: #ff0000" /><circle cx="248.67" cy="460.22" r="3" style="stroke: #ff0000;fill: #ff0000; stroke: #ff0000" /><circle cx="247.93" cy="460.24" r="3" style="stroke: #ff0000;fill: #ff0000; stroke: #ff0000" /><circle cx="247.18" cy="460.3" r="3" style="stroke: #ff0000;fill: #ff0000; stroke: #ff0000" /><circle cx="245.97" cy="433.48" r="3" style="stroke: #ff0000;fill: #ff0000; stroke: #ff0000" /><circle cx="244.76" cy="433.73" r="3" style="stroke: #ff0000;fill: #ff0000; stroke: #ff0000" /><circle cx="243.57" cy="434.12" r="3" style="stroke: #ff0000;fill: #ff0000; stroke: #ff0000" /><circle cx="242.36" cy="434.1" r="3" style="stroke: #ff0000;fill: #ff0000; stroke: #ff0000" /><circle cx="241.13" cy="433.83" r="3" style="stroke: #ff0000;fill: #ff0000; stroke: #ff0000" /><circle cx="239.9" cy="433.76" r="3" style="stroke: #ff0000;fill: #ff0000; stroke: #ff0000" /><circle cx="238.66" cy="433.66" r="3" style="stroke: #ff0000;fill: #ff0000; stroke: #ff0000" /><circle cx="237.46" cy="433.86" r="3" style="stroke: #ff0000;fill: #ff0000; stroke: #ff0000" /><circle cx="236.2" cy="433.72" r="3" style="stroke: #ff0000;fill: #ff0000; stroke: #ff0000" /><circle cx="234.99" cy="433.87" r="3" style="stroke: #ff0000;fill: #ff0000; stroke: #ff0000" /><circle cx="233.8" cy="434.17" r="3" style="stroke: #ff0000;fill: #ff0000; stroke: #ff0000" /><circle cx="232.58" cy="434.36" r="3" style="stroke: #ff0000;fill: #ff0000; stroke: #ff0000" /><circle cx="231.39" cy="434.63" r="3" style="stroke: #ff0000;fill: #ff0000; stroke: #ff0000" /><circle cx="230.16" cy="434.76" r="3" style="stroke: #ff0000;fill: #ff0000; stroke: #ff0000" /><circle cx="228.87" cy="434.69" r="3" style="stroke: #ff0000;fill: #ff0000; stroke: #ff0000" /><circle cx="227.66" cy="434.94" r="3" style="stroke: #ff0000;fill: #ff0000; stroke: #ff0000" /><circle cx="226.36" cy="434.94" r="3" style="stroke: #ff0000;fill: #ff0000; stroke: #ff0000" /><circle cx="225.28" cy="435.61" r="3" style="stroke: #ff0000;fill: #ff0000; stroke: #ff0000" /><circle cx="224" cy="435.72" r="3" style="stroke: #ff0000;fill: #ff0000; stroke: #ff0000" /><circle cx="222.86" cy="436.22" r="3" style="stroke: #ff0000;fill: #ff0000; stroke: #ff0000" /><circle cx="221.69" cy="436.63" r="3" style="stroke: #ff0000;fill: #ff0000; stroke: #ff0000" /><circle cx="220.53" cy="437.07" r="3" style="stroke: #ff0000;fill: #ff0000; stroke: #ff0000" /><circle cx="219.11" cy="436.89" r="3" style="stroke: #ff0000;fill: #ff0000; stroke: #ff0000" /><circle cx="217.86" cy="437.17" r="3" style="stroke: #ff0000;fill: #ff0000; stroke: #ff0000" /><circle cx="216.63" cy="437.5" r="3" style="stroke: #ff0000;fill: #ff0000; stroke: #ff0000" /><circle cx="215.37" cy="437.8" r="3" style="stroke: #ff0000;fill: #ff0000; stroke: #ff0000" /><circle cx="214.05" cy="438" r="3" style="stroke: #ff0000;fill: #ff0000; stroke: #ff0000" /><circle cx="212.9" cy="438.56" r="3" style="stroke: #ff0000;fill: #ff0000; stroke: #ff0000" /><circle cx="211.63" cy="438.9" r="3" style="stroke: #ff0000;fill: #ff0000; stroke: #ff0000" /><circle cx="210.2" cy="438.97" r="3" style="stroke: #ff0000;fill: #ff0000; stroke: #ff0000" /><circle cx="208.93" cy="439.37" r="3" style="stroke: #ff0000;fill: #ff0000; stroke: #ff0000" /><circle cx="207.56" cy="439.63" r="3" style="stroke: #ff0000;fill: #ff0000; stroke: #ff0000" /><circle cx="206.33" cy="440.12" r="3" style="stroke: #ff0000;fill: #ff0000; stroke: #ff0000" /><circle cx="204.98" cy="440.46" r="3" style="stroke: #ff0000;fill: #ff0000; stroke: #ff0000" /><circle cx="203.89" cy="441.2" r="3" style="stroke: #ff0000;fill: #ff0000; stroke: #ff0000" /><circle cx="202.62" cy="441.69" r="3" style="stroke: #ff0000;fill: #ff0000; stroke: #ff0000" /><circle cx="201.55" cy="442.47" r="3" style="stroke: #ff0000;fill: #ff0000; stroke: #ff0000" /><circle cx="200.33" cy="443.06" r="3" style="stroke: #ff0000;fill: #ff0000; stroke: #ff0000" /><circle cx="199.35" cy="443.96" r="3" style="stroke: #ff0000;fill: #ff0000; stroke: #ff0000" /><circle cx="198.19" cy="444.64" r="3" style="stroke: #ff0000;fill: #ff0000; stroke: #ff0000" /><circle cx="196.93" cy="445.21" r="3" style="stroke: #ff0000;fill: #ff0000; stroke: #ff0000" /><circle cx="195.72" cy="445.87" r="3" style="stroke: #ff0000;fill: #ff0000; stroke: #ff0000" /><circle cx="194.45" cy="446.48" r="3" style="stroke: #ff0000;fill: #ff0000; stroke: #ff0000" /><circle cx="193.25" cy="447.18" r="3" style="stroke: #ff0000;fill: #ff0000; stroke: #ff0000" /><circle cx="192.23" cy="448.08" r="3" style="stroke: #ff0000;fill: #ff0000; stroke: #ff0000" /><circle cx="191.22" cy="448.98" r="3" style="stroke: #ff0000;fill: #ff0000; stroke: #ff0000" /><circle cx="189.9" cy="449.61" r="3" style="stroke: #ff0000;fill: #ff0000; stroke: #ff0000" /><circle cx="188.59" cy="450.27" r="3" style="stroke: #ff0000;fill: #ff0000; stroke: #ff0000" /><circle cx="187.55" cy="451.19" r="3" style="stroke: #ff0000;fill: #ff0000; stroke: #ff0000" /><circle cx="186.37" cy="452" r="3" style="stroke: #ff0000;fill: #ff0000; stroke: #ff0000" /><circle cx="185.36" cy="452.96" r="3" style="stroke: #ff0000;fill: #ff0000; stroke: #ff0000" /><circle cx="184.43" cy="454" r="3" style="stroke: #ff0000;fill: #ff0000; stroke: #ff0000" /><circle cx="183.58" cy="455.1" r="3" style="stroke: #ff0000;fill: #ff0000; stroke: #ff0000" /><circle cx="182.42" cy="455.97" r="3" style="stroke: #ff0000;fill: #ff0000; stroke: #ff0000" /><circle cx="181.22" cy="456.84" r="3" style="stroke: #ff0000;fill: #ff0000; stroke: #ff0000" /><circle cx="180.24" cy="457.87" r="3" style="stroke: #ff0000;fill: #ff0000; stroke: #ff0000" /><circle cx="179.06" cy="458.79" r="3" style="stroke: #ff0000;fill: #ff0000; stroke: #ff0000" /><circle cx="178.11" cy="459.86" r="3" style="stroke: #ff0000;fill: #ff0000; stroke: #ff0000" /><circle cx="177.31" cy="461.04" r="3" style="stroke: #ff0000;fill: #ff0000; stroke: #ff0000" /><circle cx="176.63" cy="462.29" r="3" style="stroke: #ff0000;fill: #ff0000; stroke: #ff0000" /><circle cx="175.77" cy="463.44" r="3" style="stroke: #ff0000;fill: #ff0000; stroke: #ff0000" /><circle cx="174.98" cy="464.64" r="3" style="stroke: #ff0000;fill: #ff0000; stroke: #ff0000" /><circle cx="174.19" cy="465.84" r="3" style="stroke: #ff0000;fill: #ff0000; stroke: #ff0000" /><circle cx="173.37" cy="467.03" r="3" style="stroke: #ff0000;fill: #ff0000; stroke: #ff0000" /><circle cx="172.63" cy="468.26" r="3" style="stroke: #ff0000;fill: #ff0000; stroke: #ff0000" /><circle cx="171.79" cy="469.46" r="3" style="stroke: #ff0000;fill: #ff0000; stroke: #ff0000" /><circle cx="170.86" cy="470.63" r="3" style="stroke: #ff0000;fill: #ff0000; stroke: #ff0000" /><circle cx="170" cy="471.84" r="3" style="stroke: #ff0000;fill: #ff0000; stroke: #ff0000" /><circle cx="169.18" cy="473.08" r="3" style="stroke: #ff0000;fill: #ff0000; stroke: #ff0000" /><circle cx="168.49" cy="474.38" r="3" style="stroke: #ff0000;fill: #ff0000; stroke: #ff0000" /><circle cx="167.81" cy="475.69" r="3" style="stroke: #ff0000;fill: #ff0000; stroke: #ff0000" /><circle cx="167.58" cy="477.16" r="3" style="stroke: #ff0000;fill: #ff0000; stroke: #ff0000" /><circle cx="166.89" cy="478.48" r="3" style="stroke: #ff0000;fill: #ff0000; stroke: #ff0000" /><circle cx="166.55" cy="479.9" r="3" style="stroke: #ff0000;fill: #ff0000; stroke: #ff0000" /><circle cx="166.09" cy="481.3" r="3" style="stroke: #ff0000;fill: #ff0000; stroke: #ff0000" /><circle cx="165.78" cy="482.73" r="3" style="stroke: #ff0000;fill: #ff0000; stroke: #ff0000" /><circle cx="165.08" cy="484.07" r="3" style="stroke: #ff0000;fill: #ff0000; stroke: #ff0000" /><circle cx="164.46" cy="485.44" r="3" style="stroke: #ff0000;fill: #ff0000; stroke: #ff0000" /><circle cx="163.99" cy="486.85" r="3" style="stroke: #ff0000;fill: #ff0000; stroke: #ff0000" /><circle cx="163.69" cy="488.3" r="3" style="stroke: #ff0000;fill: #ff0000; stroke: #ff0000" /><circle cx="163.5" cy="489.77" r="3" style="stroke: #ff0000;fill: #ff0000; stroke: #ff0000" /><circle cx="163.42" cy="491.25" r="3" style="stroke: #ff0000;fill: #ff0000; stroke: #ff0000" /><circle cx="163.19" cy="492.71" r="3" style="stroke: #ff0000;fill: #ff0000; stroke: #ff0000" /><circle cx="163.28" cy="494.2" r="3" style="stroke: #ff0000;fill: #ff0000; stroke: #ff0000" /><circle cx="162.77" cy="495.64" r="3" style="stroke: #ff0000;fill: #ff0000; stroke: #ff0000" /><circle cx="162.66" cy="497.11" r="3" style="stroke: #ff0000;fill: #ff0000; stroke: #ff0000" /><circle cx="162.13" cy="498.57" r="3" style="stroke: #ff0000;fill: #ff0000; stroke: #ff0000" /><circle cx="162.28" cy="500.06" r="3" style="stroke: #ff0000;fill: #ff0000; stroke: #ff0000" /><circle cx="162.27" cy="501.54" r="3" style="stroke: #ff0000;fill: #ff0000; stroke: #ff0000" /><circle cx="162.49" cy="503.02" r="3" style="stroke: #ff0000;fill: #ff0000; stroke: #ff0000" /><circle cx="162.46" cy="504.5" r="3" style="stroke: #ff0000;fill: #ff0000; stroke: #ff0000" /><circle cx="162.99" cy="505.96" r="3" style="stroke: #ff0000;fill: #ff0000; stroke: #ff0000" /><circle cx="162.92" cy="507.44" r="3" style="stroke: #ff0000;fill: #ff0000; stroke: #ff0000" /><circle cx="162.94" cy="508.91" r="3" style="stroke: #ff0000;fill: #ff0000; stroke: #ff0000" /><circle cx="162.95" cy="510.39" r="3" style="stroke: #ff0000;fill: #ff0000; stroke: #ff0000" /><circle cx="162.96" cy="511.88" r="3" style="stroke: #ff0000;fill: #ff0000; stroke: #ff0000" /><circle cx="162.95" cy="513.37" r="3" style="stroke: #ff0000;fill: #ff0000; stroke: #ff0000" /><circle cx="236.67" cy="504.59" r="3" style="stroke: #ff0000;fill: #ff0000; stroke: #ff0000" /><circle cx="163.47" cy="516.28" r="3" style="stroke: #ff0000;fill: #ff0000; stroke: #ff0000" /><circle cx="164.14" cy="517.67" r="3" style="stroke: #ff0000;fill: #ff0000; stroke: #ff0000" /><circle cx="164.42" cy="519.11" r="3" style="stroke: #ff0000;fill: #ff0000; stroke: #ff0000" /><circle cx="235.89" cy="504.92" r="3" style="stroke: #ff0000;fill: #ff0000; stroke: #ff0000" /><circle cx="164.73" cy="522.06" r="3" style="stroke: #ff0000;fill: #ff0000; stroke: #ff0000" /><circle cx="165.16" cy="523.47" r="3" style="stroke: #ff0000;fill: #ff0000; stroke: #ff0000" /><circle cx="165.41" cy="524.93" r="3" style="stroke: #ff0000;fill: #ff0000; stroke: #ff0000" /><circle cx="165.15" cy="526.54" r="3" style="stroke: #ff0000;fill: #ff0000; stroke: #ff0000" /><circle cx="220.92" cy="514.87" r="3" style="stroke: #ff0000;fill: #ff0000; stroke: #ff0000" /><circle cx="165.82" cy="529.46" r="3" style="stroke: #ff0000;fill: #ff0000; stroke: #ff0000" /><circle cx="166.2" cy="530.91" r="3" style="stroke: #ff0000;fill: #ff0000; stroke: #ff0000" /><circle cx="166.93" cy="532.23" r="3" style="stroke: #ff0000;fill: #ff0000; stroke: #ff0000" /><circle cx="171.42" cy="531.85" r="3" style="stroke: #ff0000;fill: #ff0000; stroke: #ff0000" /><circle cx="168.43" cy="534.84" r="3" style="stroke: #ff0000;fill: #ff0000; stroke: #ff0000" /><circle cx="188.07" cy="527.05" r="3" style="stroke: #ff0000;fill: #ff0000; stroke: #ff0000" /><circle cx="169.58" cy="537.57" r="3" style="stroke: #ff0000;fill: #ff0000; stroke: #ff0000" /><circle cx="169.95" cy="539.03" r="3" style="stroke: #ff0000;fill: #ff0000; stroke: #ff0000" /><circle cx="218.8" cy="515.87" r="3" style="stroke: #ff0000;fill: #ff0000; stroke: #ff0000" /><circle cx="171.35" cy="541.66" r="3" style="stroke: #ff0000;fill: #ff0000; stroke: #ff0000" /><circle cx="172.22" cy="542.88" r="3" style="stroke: #ff0000;fill: #ff0000; stroke: #ff0000" /><circle cx="223.82" cy="513.86" r="3" style="stroke: #ff0000;fill: #ff0000; stroke: #ff0000" /><circle cx="173.91" cy="545.33" r="3" style="stroke: #ff0000;fill: #ff0000; stroke: #ff0000" /><circle cx="175.04" cy="546.37" r="3" style="stroke: #ff0000;fill: #ff0000; stroke: #ff0000" /><circle cx="175.98" cy="547.51" r="3" style="stroke: #ff0000;fill: #ff0000; stroke: #ff0000" /><circle cx="246.4" cy="503.81" r="3" style="stroke: #ff0000;fill: #ff0000; stroke: #ff0000" /><circle cx="177.75" cy="549.86" r="3" style="stroke: #ff0000;fill: #ff0000; stroke: #ff0000" /><circle cx="178.66" cy="551" r="3" style="stroke: #ff0000;fill: #ff0000; stroke: #ff0000" /><circle cx="179.79" cy="551.99" r="3" style="stroke: #ff0000;fill: #ff0000; stroke: #ff0000" /><circle cx="180.86" cy="553" r="3" style="stroke: #ff0000;fill: #ff0000; stroke: #ff0000" /><circle cx="185.61" cy="555.43" r="3" style="stroke: #ff0000;fill: #ff0000; stroke: #ff0000" /><circle cx="182.57" cy="555.34" r="3" style="stroke: #ff0000;fill: #ff0000; stroke: #ff0000" /><circle cx="186.61" cy="553.53" r="3" style="stroke: #ff0000;fill: #ff0000; stroke: #ff0000" /><circle cx="184.53" cy="557.48" r="3" style="stroke: #ff0000;fill: #ff0000; stroke: #ff0000" /><circle cx="194.55" cy="556.33" r="3" style="stroke: #ff0000;fill: #ff0000; stroke: #ff0000" /><circle cx="186.59" cy="559.52" r="3" style="stroke: #ff0000;fill: #ff0000; stroke: #ff0000" /><circle cx="193.65" cy="555.54" r="3" style="stroke: #ff0000;fill: #ff0000; stroke: #ff0000" /><circle cx="188.98" cy="561.23" r="3" style="stroke: #ff0000;fill: #ff0000; stroke: #ff0000" /><circle cx="195.55" cy="557.11" r="3" style="stroke: #ff0000;fill: #ff0000; stroke: #ff0000" /><circle cx="191.3" cy="562.94" r="3" style="stroke: #ff0000;fill: #ff0000; stroke: #ff0000" /><circle cx="193.65" cy="561.58" r="3" style="stroke: #ff0000;fill: #ff0000; stroke: #ff0000" /><circle cx="193.46" cy="564.82" r="3" style="stroke: #ff0000;fill: #ff0000; stroke: #ff0000" /><circle cx="194.64" cy="565.63" r="3" style="stroke: #ff0000;fill: #ff0000; stroke: #ff0000" /><circle cx="195.82" cy="566.44" r="3" style="stroke: #ff0000;fill: #ff0000; stroke: #ff0000" /><circle cx="196.91" cy="567.36" r="3" style="stroke: #ff0000;fill: #ff0000; stroke: #ff0000" /><circle cx="198.06" cy="568.2" r="3" style="stroke: #ff0000;fill: #ff0000; stroke: #ff0000" /><circle cx="200.58" cy="566.38" r="3" style="stroke: #ff0000;fill: #ff0000; stroke: #ff0000" /><circle cx="200.61" cy="569.54" r="3" style="stroke: #ff0000;fill: #ff0000; stroke: #ff0000" /><circle cx="201.71" cy="570.43" r="3" style="stroke: #ff0000;fill: #ff0000; stroke: #ff0000" /><circle cx="203.13" cy="570.86" r="3" style="stroke: #ff0000;fill: #ff0000; stroke: #ff0000" /><circle cx="204.23" cy="571.75" r="3" style="stroke: #ff0000;fill: #ff0000; stroke: #ff0000" /><circle cx="205.46" cy="572.45" r="3" style="stroke: #ff0000;fill: #ff0000; stroke: #ff0000" /><circle cx="206.81" cy="572.95" r="3" style="stroke: #ff0000;fill: #ff0000; stroke: #ff0000" /><circle cx="208.21" cy="573.33" r="3" style="stroke: #ff0000;fill: #ff0000; stroke: #ff0000" /><circle cx="209.42" cy="574.04" r="3" style="stroke: #ff0000;fill: #ff0000; stroke: #ff0000" /><circle cx="210.69" cy="574.63" r="3" style="stroke: #ff0000;fill: #ff0000; stroke: #ff0000" /><circle cx="212.16" cy="574.82" r="3" style="stroke: #ff0000;fill: #ff0000; stroke: #ff0000" /><circle cx="213.34" cy="575.58" r="3" style="stroke: #ff0000;fill: #ff0000; stroke: #ff0000" /><circle cx="214.63" cy="576.14" r="3" style="stroke: #ff0000;fill: #ff0000; stroke: #ff0000" /><circle cx="216.04" cy="576.38" r="3" style="stroke: #ff0000;fill: #ff0000; stroke: #ff0000" /><circle cx="217.5" cy="576.49" r="3" style="stroke: #ff0000;fill: #ff0000; stroke: #ff0000" /><circle cx="218.9" cy="576.68" r="3" style="stroke: #ff0000;fill: #ff0000; stroke: #ff0000" /><circle cx="220.36" cy="576.7" r="3" style="stroke: #ff0000;fill: #ff0000; stroke: #ff0000" /><circle cx="221.88" cy="576.5" r="3" style="stroke: #ff0000;fill: #ff0000; stroke: #ff0000" /><circle cx="223.39" cy="576.24" r="3" style="stroke: #ff0000;fill: #ff0000; stroke: #ff0000" /><circle cx="225.06" cy="575.38" r="3" style="stroke: #ff0000;fill: #ff0000; stroke: #ff0000" /><circle cx="226.5" cy="575.15" r="3" style="stroke: #ff0000;fill: #ff0000; stroke: #ff0000" /><circle cx="228.07" cy="574.32" r="3" style="stroke: #ff0000;fill: #ff0000; stroke: #ff0000" /><circle cx="229.42" cy="574.25" r="3" style="stroke: #ff0000;fill: #ff0000; stroke: #ff0000" /><circle cx="230.89" cy="573.59" r="3" style="stroke: #ff0000;fill: #ff0000; stroke: #ff0000" /><circle cx="232.23" cy="573.33" r="3" style="stroke: #ff0000;fill: #ff0000; stroke: #ff0000" /><circle cx="233.62" cy="572.75" r="3" style="stroke: #ff0000;fill: #ff0000; stroke: #ff0000" /><circle cx="234.87" cy="572.83" r="3" style="stroke: #ff0000;fill: #ff0000; stroke: #ff0000" /><circle cx="236.15" cy="572.64" r="3" style="stroke: #ff0000;fill: #ff0000; stroke: #ff0000" /><circle cx="237.39" cy="572.67" r="3" style="stroke: #ff0000;fill: #ff0000; stroke: #ff0000" /><circle cx="238.62" cy="572.75" r="3" style="stroke: #ff0000;fill: #ff0000; stroke: #ff0000" /><circle cx="239.85" cy="572.72" r="3" style="stroke: #ff0000;fill: #ff0000; stroke: #ff0000" /><circle cx="241.1" cy="572.48" r="3" style="stroke: #ff0000;fill: #ff0000; stroke: #ff0000" /><circle cx="242.32" cy="572.53" r="3" style="stroke: #ff0000;fill: #ff0000; stroke: #ff0000" /><circle cx="243.55" cy="572.29" r="3" style="stroke: #ff0000;fill: #ff0000; stroke: #ff0000" /><circle cx="244.76" cy="572.19" r="3" style="stroke: #ff0000;fill: #ff0000; stroke: #ff0000" /><circle cx="245.97" cy="572.47" r="3" style="stroke: #ff0000;fill: #ff0000; stroke: #ff0000" /><circle cx="247.18" cy="548.94" r="3" style="stroke: #ff0000;fill: #ff0000; stroke: #ff0000" /><circle cx="247.98" cy="548.81" r="3" style="stroke: #ff0000;fill: #ff0000; stroke: #ff0000" /><circle cx="248.77" cy="548.57" r="3" style="stroke: #ff0000;fill: #ff0000; stroke: #ff0000" /><circle cx="249.57" cy="548.58" r="3" style="stroke: #ff0000;fill: #ff0000; stroke: #ff0000" /><circle cx="250.32" cy="548.01" r="3" style="stroke: #ff0000;fill: #ff0000; stroke: #ff0000" /><circle cx="251.09" cy="547.71" r="3" style="stroke: #ff0000;fill: #ff0000; stroke: #ff0000" /><circle cx="251.87" cy="547.66" r="3" style="stroke: #ff0000;fill: #ff0000; stroke: #ff0000" /><circle cx="252.63" cy="547.38" r="3" style="stroke: #ff0000;fill: #ff0000; stroke: #ff0000" /><circle cx="253.31" cy="546.64" r="3" style="stroke: #ff0000;fill: #ff0000; stroke: #ff0000" /><circle cx="254.05" cy="546.39" r="3" style="stroke: #ff0000;fill: #ff0000; stroke: #ff0000" /><circle cx="254.81" cy="546.29" r="3" style="stroke: #ff0000;fill: #ff0000; stroke: #ff0000" /><circle cx="255.47" cy="545.69" r="3" style="stroke: #ff0000;fill: #ff0000; stroke: #ff0000" /><circle cx="256.18" cy="545.39" r="3" style="stroke: #ff0000;fill: #ff0000; stroke: #ff0000" /><circle cx="256.96" cy="545.38" r="3" style="stroke: #ff0000;fill: #ff0000; stroke: #ff0000" /><circle cx="257.57" cy="544.7" r="3" style="stroke: #ff0000;fill: #ff0000; stroke: #ff0000" /><circle cx="258.18" cy="544.06" r="3" style="stroke: #ff0000;fill: #ff0000; stroke: #ff0000" /><circle cx="258.78" cy="543.49" r="3" style="stroke: #ff0000;fill: #ff0000; stroke: #ff0000" /><circle cx="259.31" cy="542.7" r="3" style="stroke: #ff0000;fill: #ff0000; stroke: #ff0000" /><circle cx="259.96" cy="542.37" r="3" style="stroke: #ff0000;fill: #ff0000; stroke: #ff0000" /><circle cx="260.6" cy="542.01" r="3" style="stroke: #ff0000;fill: #ff0000; stroke: #ff0000" /><circle cx="261.24" cy="541.65" r="3" style="stroke: #ff0000;fill: #ff0000; stroke: #ff0000" /><circle cx="261.89" cy="541.34" r="3" style="stroke: #ff0000;fill: #ff0000; stroke: #ff0000" /><circle cx="262.52" cy="541" r="3" style="stroke: #ff0000;fill: #ff0000; stroke: #ff0000" /><circle cx="263.02" cy="540.33" r="3" style="stroke: #ff0000;fill: #ff0000; stroke: #ff0000" /><circle cx="263.5" cy="539.68" r="3" style="stroke: #ff0000;fill: #ff0000; stroke: #ff0000" /><circle cx="263.98" cy="539.06" r="3" style="stroke: #ff0000;fill: #ff0000; stroke: #ff0000" /><circle cx="264.56" cy="538.67" r="3" style="stroke: #ff0000;fill: #ff0000; stroke: #ff0000" /><circle cx="265.13" cy="538.26" r="3" style="stroke: #ff0000;fill: #ff0000; stroke: #ff0000" /><circle cx="265.73" cy="537.92" r="3" style="stroke: #ff0000;fill: #ff0000; stroke: #ff0000" /><circle cx="266.54" cy="537.95" r="3" style="stroke: #ff0000;fill: #ff0000; stroke: #ff0000" /><circle cx="267.12" cy="537.57" r="3" style="stroke: #ff0000;fill: #ff0000; stroke: #ff0000" /><circle cx="267.53" cy="536.89" r="3" style="stroke: #ff0000;fill: #ff0000; stroke: #ff0000" /><circle cx="268.22" cy="536.7" r="3" style="stroke: #ff0000;fill: #ff0000; stroke: #ff0000" /><circle cx="268.9" cy="536.48" r="3" style="stroke: #ff0000;fill: #ff0000; stroke: #ff0000" /><circle cx="269.51" cy="536.13" r="3" style="stroke: #ff0000;fill: #ff0000; stroke: #ff0000" /><circle cx="270.15" cy="535.83" r="3" style="stroke: #ff0000;fill: #ff0000; stroke: #ff0000" /><circle cx="271.01" cy="535.82" r="3" style="stroke: #ff0000;fill: #ff0000; stroke: #ff0000" /><circle cx="271.73" cy="535.6" r="3" style="stroke: #ff0000;fill: #ff0000; stroke: #ff0000" /><circle cx="272.04" cy="534.85" r="3" style="stroke: #ff0000;fill: #ff0000; stroke: #ff0000" /><circle cx="272.6" cy="534.42" r="3" style="stroke: #ff0000;fill: #ff0000; stroke: #ff0000" /><circle cx="272.94" cy="533.72" r="3" style="stroke: #ff0000;fill: #ff0000; stroke: #ff0000" /><circle cx="273.38" cy="533.16" r="3" style="stroke: #ff0000;fill: #ff0000; stroke: #ff0000" /><circle cx="274.02" cy="532.83" r="3" style="stroke: #ff0000;fill: #ff0000; stroke: #ff0000" /><circle cx="274.7" cy="532.54" r="3" style="stroke: #ff0000;fill: #ff0000; stroke: #ff0000" /><circle cx="275.15" cy="531.98" r="3" style="stroke: #ff0000;fill: #ff0000; stroke: #ff0000" /><circle cx="275.72" cy="531.56" r="3" style="stroke: #ff0000;fill: #ff0000; stroke: #ff0000" /><circle cx="275.98" cy="530.83" r="3" style="stroke: #ff0000;fill: #ff0000; stroke: #ff0000" /><circle cx="276.46" cy="530.33" r="3" style="stroke: #ff0000;fill: #ff0000; stroke: #ff0000" /><circle cx="276.82" cy="529.71" r="3" style="stroke: #ff0000;fill: #ff0000; stroke: #ff0000" /><circle cx="277.09" cy="529.03" r="3" style="stroke: #ff0000;fill: #ff0000; stroke: #ff0000" /><circle cx="277.36" cy="528.35" r="3" style="stroke: #ff0000;fill: #ff0000; stroke: #ff0000" /><circle cx="277.6" cy="527.66" r="3" style="stroke: #ff0000;fill: #ff0000; stroke: #ff0000" /><circle cx="278.02" cy="527.12" r="3" style="stroke: #ff0000;fill: #ff0000; stroke: #ff0000" /><circle cx="278.58" cy="526.69" r="3" style="stroke: #ff0000;fill: #ff0000; stroke: #ff0000" /><circle cx="279.04" cy="526.17" r="3" style="stroke: #ff0000;fill: #ff0000; stroke: #ff0000" /><circle cx="279.68" cy="525.78" r="3" style="stroke: #ff0000;fill: #ff0000; stroke: #ff0000" /><circle cx="280.11" cy="525.24" r="3" style="stroke: #ff0000;fill: #ff0000; stroke: #ff0000" /><circle cx="280.72" cy="524.8" r="3" style="stroke: #ff0000;fill: #ff0000; stroke: #ff0000" /><circle cx="280.9" cy="524.1" r="3" style="stroke: #ff0000;fill: #ff0000; stroke: #ff0000" /><circle cx="281.25" cy="523.49" r="3" style="stroke: #ff0000;fill: #ff0000; stroke: #ff0000" /><circle cx="281.22" cy="522.68" r="3" style="stroke: #ff0000;fill: #ff0000; stroke: #ff0000" /><circle cx="281.29" cy="521.93" r="3" style="stroke: #ff0000;fill: #ff0000; stroke: #ff0000" /><circle cx="281.7" cy="521.38" r="3" style="stroke: #ff0000;fill: #ff0000; stroke: #ff0000" /><circle cx="281.53" cy="520.53" r="3" style="stroke: #ff0000;fill: #ff0000; stroke: #ff0000" /><circle cx="281.85" cy="519.94" r="3" style="stroke: #ff0000;fill: #ff0000; stroke: #ff0000" /><circle cx="282.17" cy="519.34" r="3" style="stroke: #ff0000;fill: #ff0000; stroke: #ff0000" /><circle cx="282.4" cy="518.7" r="3" style="stroke: #ff0000;fill: #ff0000; stroke: #ff0000" /><circle cx="282.47" cy="518" r="3" style="stroke: #ff0000;fill: #ff0000; stroke: #ff0000" /><circle cx="283.04" cy="517.51" r="3" style="stroke: #ff0000;fill: #ff0000; stroke: #ff0000" /><circle cx="283.4" cy="516.93" r="3" style="stroke: #ff0000;fill: #ff0000; stroke: #ff0000" /><circle cx="283.56" cy="516.26" r="3" style="stroke: #ff0000;fill: #ff0000; stroke: #ff0000" /><circle cx="283.5" cy="515.53" r="3" style="stroke: #ff0000;fill: #ff0000; stroke: #ff0000" /><circle cx="283.9" cy="514.95" r="3" style="stroke: #ff0000;fill: #ff0000; stroke: #ff0000" /><circle cx="284.42" cy="514.41" r="3" style="stroke: #ff0000;fill: #ff0000; stroke: #ff0000" /><circle cx="284.43" cy="513.7" r="3" style="stroke: #ff0000;fill: #ff0000; stroke: #ff0000" /><circle cx="284.74" cy="513.09" r="3" style="stroke: #ff0000;fill: #ff0000; stroke: #ff0000" /><circle cx="284.85" cy="512.42" r="3" style="stroke: #ff0000;fill: #ff0000; stroke: #ff0000" /><circle cx="285.07" cy="511.77" r="3" style="stroke: #ff0000;fill: #ff0000; stroke: #ff0000" /><circle cx="284.88" cy="511.04" r="3" style="stroke: #ff0000;fill: #ff0000; stroke: #ff0000" /><circle cx="285.34" cy="510.44" r="3" style="stroke: #ff0000;fill: #ff0000; stroke: #ff0000" /><circle cx="285.97" cy="509.86" r="3" style="stroke: #ff0000;fill: #ff0000; stroke: #ff0000" /><circle cx="285.76" cy="509.13" r="3" style="stroke: #ff0000;fill: #ff0000; stroke: #ff0000" /><circle cx="285.85" cy="508.46" r="3" style="stroke: #ff0000;fill: #ff0000; stroke: #ff0000" /><circle cx="285.79" cy="507.76" r="3" style="stroke: #ff0000;fill: #ff0000; stroke: #ff0000" /><circle cx="285.93" cy="507.1" r="3" style="stroke: #ff0000;fill: #ff0000; stroke: #ff0000" /><circle cx="285.47" cy="506.37" r="3" style="stroke: #ff0000;fill: #ff0000; stroke: #ff0000" /><circle cx="285.68" cy="505.72" r="3" style="stroke: #ff0000;fill: #ff0000; stroke: #ff0000" /><circle cx="285.93" cy="505.05" r="3" style="stroke: #ff0000;fill: #ff0000; stroke: #ff0000" /><circle cx="285.65" cy="504.37" r="3" style="stroke: #ff0000;fill: #ff0000; stroke: #ff0000" /><circle cx="285.84" cy="503.7" r="3" style="stroke: #ff0000;fill: #ff0000; stroke: #ff0000" /></g></g><g><g clip-path="url(#p9a0f7176bb)"><circle cx="243" cy="434.63" r="3" style="stroke: #0000ff;fill: #0000ff; stroke: #0000ff" /><circle cx="239.32" cy="434.37" r="3" style="stroke: #0000ff;fill: #0000ff; stroke: #0000ff" /><circle cx="235.61" cy="434.32" r="3" style="stroke: #0000ff;fill: #0000ff; stroke: #0000ff" /><circle cx="231.88" cy="434.54" r="3" style="stroke: #0000ff;fill: #0000ff; stroke: #0000ff" /><circle cx="228.13" cy="434.88" r="3" style="stroke: #0000ff;fill: #0000ff; stroke: #0000ff" /><circle cx="224.37" cy="435.43" r="3" style="stroke: #0000ff;fill: #0000ff; stroke: #0000ff" /><circle cx="220.61" cy="436.19" r="3" style="stroke: #0000ff;fill: #0000ff; stroke: #0000ff" /><circle cx="216.84" cy="437.09" r="3" style="stroke: #0000ff;fill: #0000ff; stroke: #0000ff" /><circle cx="213.08" cy="438.18" r="3" style="stroke: #0000ff;fill: #0000ff; stroke: #0000ff" /><circle cx="209.35" cy="439.48" r="3" style="stroke: #0000ff;fill: #0000ff; stroke: #0000ff" /><circle cx="205.55" cy="440.83" r="3" style="stroke: #0000ff;fill: #0000ff; stroke: #0000ff" /><circle cx="201.84" cy="442.48" r="3" style="stroke: #0000ff;fill: #0000ff; stroke: #0000ff" /><circle cx="198.12" cy="444.26" r="3" style="stroke: #0000ff;fill: #0000ff; stroke: #0000ff" /><circle cx="194.51" cy="446.32" r="3" style="stroke: #0000ff;fill: #0000ff; stroke: #0000ff" /><circle cx="190.97" cy="448.59" r="3" style="stroke: #0000ff;fill: #0000ff; stroke: #0000ff" /><circle cx="187.38" cy="450.95" r="3" style="stroke: #0000ff;fill: #0000ff; stroke: #0000ff" /><circle cx="184.18" cy="453.77" r="3" style="stroke: #0000ff;fill: #0000ff; stroke: #0000ff" /><circle cx="180.97" cy="456.68" r="3" style="stroke: #0000ff;fill: #0000ff; stroke: #0000ff" /><circle cx="177.86" cy="459.77" r="3" style="stroke: #0000ff;fill: #0000ff; stroke: #0000ff" /><circle cx="175.41" cy="463.35" r="3" style="stroke: #0000ff;fill: #0000ff; stroke: #0000ff" /><circle cx="173" cy="467" r="3" style="stroke: #0000ff;fill: #0000ff; stroke: #0000ff" /><circle cx="170.95" cy="470.86" r="3" style="stroke: #0000ff;fill: #0000ff; stroke: #0000ff" /><circle cx="168.97" cy="474.8" r="3" style="stroke: #0000ff;fill: #0000ff; stroke: #0000ff" /><circle cx="167.42" cy="478.92" r="3" style="stroke: #0000ff;fill: #0000ff; stroke: #0000ff" /><circle cx="165.92" cy="483.09" r="3" style="stroke: #0000ff;fill: #0000ff; stroke: #0000ff" /><circle cx="164.8" cy="487.38" r="3" style="stroke: #0000ff;fill: #0000ff; stroke: #0000ff" /><circle cx="163.95" cy="491.73" r="3" style="stroke: #0000ff;fill: #0000ff; stroke: #0000ff" /><circle cx="163.27" cy="496.13" r="3" style="stroke: #0000ff;fill: #0000ff; stroke: #0000ff" /><circle cx="163.1" cy="500.58" r="3" style="stroke: #0000ff;fill: #0000ff; stroke: #0000ff" /><circle cx="163.08" cy="505.03" r="3" style="stroke: #0000ff;fill: #0000ff; stroke: #0000ff" /><circle cx="163.25" cy="509.47" r="3" style="stroke: #0000ff;fill: #0000ff; stroke: #0000ff" /><circle cx="163.59" cy="513.92" r="3" style="stroke: #0000ff;fill: #0000ff; stroke: #0000ff" /><circle cx="164.2" cy="518.33" r="3" style="stroke: #0000ff;fill: #0000ff; stroke: #0000ff" /><circle cx="165.51" cy="522.61" r="3" style="stroke: #0000ff;fill: #0000ff; stroke: #0000ff" /><circle cx="166.84" cy="526.84" r="3" style="stroke: #0000ff;fill: #0000ff; stroke: #0000ff" /><circle cx="168.37" cy="531" r="3" style="stroke: #0000ff;fill: #0000ff; stroke: #0000ff" /><circle cx="170.11" cy="535.06" r="3" style="stroke: #0000ff;fill: #0000ff; stroke: #0000ff" /><circle cx="172.04" cy="539.03" r="3" style="stroke: #0000ff;fill: #0000ff; stroke: #0000ff" /><circle cx="174.08" cy="542.93" r="3" style="stroke: #0000ff;fill: #0000ff; stroke: #0000ff" /><circle cx="176.81" cy="546.42" r="3" style="stroke: #0000ff;fill: #0000ff; stroke: #0000ff" /><circle cx="179.59" cy="549.81" r="3" style="stroke: #0000ff;fill: #0000ff; stroke: #0000ff" /><circle cx="182.58" cy="552.99" r="3" style="stroke: #0000ff;fill: #0000ff; stroke: #0000ff" /><circle cx="185.68" cy="556.02" r="3" style="stroke: #0000ff;fill: #0000ff; stroke: #0000ff" /><circle cx="188.9" cy="558.88" r="3" style="stroke: #0000ff;fill: #0000ff; stroke: #0000ff" /><circle cx="192.17" cy="561.63" r="3" style="stroke: #0000ff;fill: #0000ff; stroke: #0000ff" /><circle cx="195.79" cy="563.92" r="3" style="stroke: #0000ff;fill: #0000ff; stroke: #0000ff" /><circle cx="199.44" cy="566.08" r="3" style="stroke: #0000ff;fill: #0000ff; stroke: #0000ff" /><circle cx="203.13" cy="568.09" r="3" style="stroke: #0000ff;fill: #0000ff; stroke: #0000ff" /><circle cx="206.94" cy="569.82" r="3" style="stroke: #0000ff;fill: #0000ff; stroke: #0000ff" /><circle cx="210.87" cy="571.19" r="3" style="stroke: #0000ff;fill: #0000ff; stroke: #0000ff" /><circle cx="214.73" cy="572.58" r="3" style="stroke: #0000ff;fill: #0000ff; stroke: #0000ff" /><circle cx="218.68" cy="573.63" r="3" style="stroke: #0000ff;fill: #0000ff; stroke: #0000ff" /><circle cx="222.67" cy="574.4" r="3" style="stroke: #0000ff;fill: #0000ff; stroke: #0000ff" /><circle cx="226.65" cy="574.99" r="3" style="stroke: #0000ff;fill: #0000ff; stroke: #0000ff" /><circle cx="230.68" cy="575.13" r="3" style="stroke: #0000ff;fill: #0000ff; stroke: #0000ff" /><circle cx="234.65" cy="575.12" r="3" style="stroke: #0000ff;fill: #0000ff; stroke: #0000ff" /><circle cx="238.54" cy="575.15" r="3" style="stroke: #0000ff;fill: #0000ff; stroke: #0000ff" /><circle cx="242.42" cy="574.74" r="3" style="stroke: #0000ff;fill: #0000ff; stroke: #0000ff" /><circle cx="250.07" cy="546.48" r="3" style="stroke: #0000ff;fill: #0000ff; stroke: #0000ff" /><circle cx="252.34" cy="546.14" r="3" style="stroke: #0000ff;fill: #0000ff; stroke: #0000ff" /><circle cx="254.56" cy="545.54" r="3" style="stroke: #0000ff;fill: #0000ff; stroke: #0000ff" /><circle cx="256.74" cy="544.87" r="3" style="stroke: #0000ff;fill: #0000ff; stroke: #0000ff" /><circle cx="258.85" cy="544.03" r="3" style="stroke: #0000ff;fill: #0000ff; stroke: #0000ff" /><circle cx="260.89" cy="543.05" r="3" style="stroke: #0000ff;fill: #0000ff; stroke: #0000ff" /><circle cx="262.91" cy="542.09" r="3" style="stroke: #0000ff;fill: #0000ff; stroke: #0000ff" /><circle cx="264.85" cy="540.99" r="3" style="stroke: #0000ff;fill: #0000ff; stroke: #0000ff" /><circle cx="266.71" cy="539.79" r="3" style="stroke: #0000ff;fill: #0000ff; stroke: #0000ff" /><circle cx="268.43" cy="538.38" r="3" style="stroke: #0000ff;fill: #0000ff; stroke: #0000ff" /><circle cx="270.08" cy="536.94" r="3" style="stroke: #0000ff;fill: #0000ff; stroke: #0000ff" /><circle cx="271.8" cy="535.64" r="3" style="stroke: #0000ff;fill: #0000ff; stroke: #0000ff" /><circle cx="273.28" cy="534.05" r="3" style="stroke: #0000ff;fill: #0000ff; stroke: #0000ff" /><circle cx="274.82" cy="532.56" r="3" style="stroke: #0000ff;fill: #0000ff; stroke: #0000ff" /><circle cx="276.18" cy="530.91" r="3" style="stroke: #0000ff;fill: #0000ff; stroke: #0000ff" /><circle cx="277.4" cy="529.16" r="3" style="stroke: #0000ff;fill: #0000ff; stroke: #0000ff" /><circle cx="278.5" cy="527.35" r="3" style="stroke: #0000ff;fill: #0000ff; stroke: #0000ff" /><circle cx="279.56" cy="525.54" r="3" style="stroke: #0000ff;fill: #0000ff; stroke: #0000ff" /><circle cx="280.68" cy="523.79" r="3" style="stroke: #0000ff;fill: #0000ff; stroke: #0000ff" /><circle cx="281.5" cy="521.87" r="3" style="stroke: #0000ff;fill: #0000ff; stroke: #0000ff" /><circle cx="282.47" cy="520.04" r="3" style="stroke: #0000ff;fill: #0000ff; stroke: #0000ff" /><circle cx="283.2" cy="518.11" r="3" style="stroke: #0000ff;fill: #0000ff; stroke: #0000ff" /><circle cx="283.81" cy="516.14" r="3" style="stroke: #0000ff;fill: #0000ff; stroke: #0000ff" /><circle cx="284.44" cy="514.18" r="3" style="stroke: #0000ff;fill: #0000ff; stroke: #0000ff" /><circle cx="284.7" cy="512.14" r="3" style="stroke: #0000ff;fill: #0000ff; stroke: #0000ff" /><circle cx="285.15" cy="510.15" r="3" style="stroke: #0000ff;fill: #0000ff; stroke: #0000ff" /><circle cx="285.23" cy="508.1" r="3" style="stroke: #0000ff;fill: #0000ff; stroke: #0000ff" /><circle cx="285.35" cy="506.08" r="3" style="stroke: #0000ff;fill: #0000ff; stroke: #0000ff" /><circle cx="285.32" cy="504.06" r="3" style="stroke: #0000ff;fill: #0000ff; stroke: #0000ff" /><circle cx="285.42" cy="502.05" r="3" style="stroke: #0000ff;fill: #0000ff; stroke: #0000ff" /><circle cx="285.21" cy="500.04" r="3" style="stroke: #0000ff;fill: #0000ff; stroke: #0000ff" /><circle cx="285.07" cy="498.03" r="3" style="stroke: #0000ff;fill: #0000ff; stroke: #0000ff" /><circle cx="284.68" cy="496.05" r="3" style="stroke: #0000ff;fill: #0000ff; stroke: #0000ff" /><circle cx="284.46" cy="494.04" r="3" style="stroke: #0000ff;fill: #0000ff; stroke: #0000ff" /><circle cx="284.02" cy="492.06" r="3" style="stroke: #0000ff;fill: #0000ff; stroke: #0000ff" /><circle cx="283.3" cy="490.16" r="3" style="stroke: #0000ff;fill: #0000ff; stroke: #0000ff" /><circle cx="282.7" cy="488.22" r="3" style="stroke: #0000ff;fill: #0000ff; stroke: #0000ff" /><circle cx="281.82" cy="486.39" r="3" style="stroke: #0000ff;fill: #0000ff; stroke: #0000ff" /><circle cx="281.03" cy="484.52" r="3" style="stroke: #0000ff;fill: #0000ff; stroke: #0000ff" /><circle cx="279.98" cy="482.77" r="3" style="stroke: #0000ff;fill: #0000ff; stroke: #0000ff" /><circle cx="278.88" cy="481.06" r="3" style="stroke: #0000ff;fill: #0000ff; stroke: #0000ff" /><circle cx="277.98" cy="479.19" r="3" style="stroke: #0000ff;fill: #0000ff; stroke: #0000ff" /><circle cx="276.69" cy="477.58" r="3" style="stroke: #0000ff;fill: #0000ff; stroke: #0000ff" /><circle cx="275.36" cy="476.01" r="3" style="stroke: #0000ff;fill: #0000ff; stroke: #0000ff" /><circle cx="274.02" cy="474.44" r="3" style="stroke: #0000ff;fill: #0000ff; stroke: #0000ff" /><circle cx="272.55" cy="472.97" r="3" style="stroke: #0000ff;fill: #0000ff; stroke: #0000ff" /><circle cx="271.15" cy="471.39" r="3" style="stroke: #0000ff;fill: #0000ff; stroke: #0000ff" /><circle cx="269.55" cy="470.01" r="3" style="stroke: #0000ff;fill: #0000ff; stroke: #0000ff" /><circle cx="268.01" cy="468.49" r="3" style="stroke: #0000ff;fill: #0000ff; stroke: #0000ff" /><circle cx="266.25" cy="467.27" r="3" style="stroke: #0000ff;fill: #0000ff; stroke: #0000ff" /><circle cx="264.37" cy="466.25" r="3" style="stroke: #0000ff;fill: #0000ff; stroke: #0000ff" /><circle cx="262.52" cy="465.13" r="3" style="stroke: #0000ff;fill: #0000ff; stroke: #0000ff" /><circle cx="260.64" cy="463.95" r="3" style="stroke: #0000ff;fill: #0000ff; stroke: #0000ff" /><circle cx="258.64" cy="463.04" r="3" style="stroke: #0000ff;fill: #0000ff; stroke: #0000ff" /><circle cx="256.63" cy="461.99" r="3" style="stroke: #0000ff;fill: #0000ff; stroke: #0000ff" /><circle cx="254.52" cy="461.18" r="3" style="stroke: #0000ff;fill: #0000ff; stroke: #0000ff" /><circle cx="252.34" cy="460.54" r="3" style="stroke: #0000ff;fill: #0000ff; stroke: #0000ff" /><circle cx="250.12" cy="459.94" r="3" style="stroke: #0000ff;fill: #0000ff; stroke: #0000ff" /></g></g><g><g><g><g><path d="M 191.88 583.56 L 191.88 587.16" style="stroke: #000000; stroke-width: 0.8;stroke: #000000; stroke-width: 0.8" /></g></g><g><text style="font-size: 10px; font-family: 'DejaVu Sans', sans-serif; text-anchor: middle" x="191.31" y="597.8" transform="translate(-0.360 0.720) translate(191.31 597.80) scale(0.9722 1.0000) translate(-191.31 -597.80)">−500</text></g></g><g><g><g><path d="M 247.32 583.56 L 247.32 587.16" style="stroke: #000000; stroke-width: 0.8;stroke: #000000; stroke-width: 0.8" /></g></g><g><text style="font-size: 10px; font-family: 'DejaVu Sans', sans-serif; text-anchor: middle" x="247.18" y="597.8" transform="translate(0.720 0.720)">0</text></g></g><g><text style="font-size: 10px; font-family: 'DejaVu Sans', sans-serif; text-anchor: middle" x="224.64" y="611.48" transform="translate(0.720 0.720)">X</text></g></g><g><g><g><g><path d="M 157.32 559.08 L 153.72 559.08" style="stroke: #000000; stroke-width: 0.8;stroke: #000000; stroke-width: 0.8" /></g></g><g><text style="font-size: 10px; font-family: 'DejaVu Sans', sans-serif; text-anchor: end" x="149.9" y="562.69" transform="translate(149.90 562.69) scale(0.9722 1.0000) translate(-149.90 -562.69)">−500</text></g></g><g><g><g><path d="M 157.32 531 L 153.72 531" style="stroke: #000000; stroke-width: 0.8;stroke: #000000; stroke-width: 0.8" /></g></g><g><text style="font-size: 10px; font-family: 'DejaVu Sans', sans-serif; text-anchor: end" x="149.9" y="534.76" transform="translate(149.90 534.76) scale(0.9722 1.0000) translate(-149.90 -534.76)">−250</text></g></g><g><g><g><path d="M 157.32 503.64 L 153.72 503.64" style="stroke: #000000; stroke-width: 0.8;stroke: #000000; stroke-width: 0.8" /></g></g><g><text style="font-size: 10px; font-family: 'DejaVu Sans', sans-serif; text-anchor: end" x="149.9" y="506.82" transform="translate(0.720 0.000)">0</text></g></g><g><g><g><path d="M 157.32 475.56 L 153.72 475.56" style="stroke: #000000; stroke-width: 0.8;stroke: #000000; stroke-width: 0.8" /></g></g><g><text style="font-size: 10px; font-family: 'DejaVu Sans', sans-serif; text-anchor: end" x="149.9" y="478.89">250</text></g></g><g><g><g><path d="M 157.32 447.48 L 153.72 447.48" style="stroke: #000000; stroke-width: 0.8;stroke: #000000; stroke-width: 0.8" /></g></g><g><text style="font-size: 10px; font-family: 'DejaVu Sans', sans-serif; text-anchor: end" x="149.9" y="450.95" transform="translate(-0.720 0.720) translate(149.90 450.95) scale(0.9583 1.0000) translate(-149.90 -450.95)">500</text></g></g><g><text style="font-size: 10px; font-family: 'DejaVu Sans', sans-serif; text-anchor: middle" x="116.35" y="504.65" transform="translate(-0.720 0.000) rotate(-90 116.35 504.65)">Y</text></g></g><g><path d="M 157.32 583.56 L 157.32 426.6" style="fill: none; stroke: #000000; stroke-width: 0.8; stroke-linejoin: miter; stroke-linecap: square" /></g><g><path d="M 292.68 583.56 L 292.68 426.6" style="fill: none; stroke: #000000; stroke-width: 0.8; stroke-linejoin: miter; stroke-linecap: square" /></g><g><path d="M 157.32 583.56 L 292.68 583.56" style="fill: none; stroke: #000000; stroke-width: 0.8; stroke-linejoin: miter; stroke-linecap: square" /></g><g><path d="M 157.32 426.6 L 292.68 426.6" style="fill: none; stroke: #000000; stroke-width: 0.8; stroke-linejoin: miter; stroke-linecap: square" /></g><g><text style="font-size: 12px; font-family: 'DejaVu Sans', sans-serif; text-anchor: middle" x="224.64" y="420.11" transform="translate(-0.360 0.000) translate(224.64 420.11) scale(0.9943 1.1000) translate(-224.64 -420.11)">2D Coordinate Graph</text></g><g><g><path d="M 191.33 521.45 L 259.12 521.45 Q 261.12 521.45 261.12 519.45 L 261.12 490.49 Q 261.12 488.49 259.12 488.49 L 191.33 488.49 Q 189.33 488.49 189.33 490.49 L 189.33 519.45 Q 189.33 521.45 191.33 521.45 z" style="fill: #ffffff; opacity: 0.8; stroke: #cccccc; stroke-linejoin: miter" /></g><g><g><circle cx="203.13" cy="497.66" r="3" style="stroke: #ff0000;fill: #ff0000; stroke: #ff0000" /></g></g><g><text style="font-size: 10px; font-family: 'DejaVu Sans', sans-serif; text-anchor: start" x="220.73" y="500.29" transform="translate(-0.216 -0.720)">Wall</text></g><g><g><circle cx="203.13" cy="512.54" r="3" style="stroke: #0000ff;fill: #0000ff; stroke: #0000ff" /></g></g><g><text style="font-size: 10px; font-family: 'DejaVu Sans', sans-serif; text-anchor: start" x="220.73" y="515.17" transform="translate(-0.216 -0.360)">adjWall</text></g></g></g><g><g><path d="M 501.12 583.2 L 777.6 583.2 L 777.6 64.8 L 501.12 64.8 z" style="fill: #ffffff" /></g><g><path d="M 513.36 583.2 L 520.56 583.2 L 520.56 504.72 L 513.36 504.72 z" clip-path="url(#p1958cf9c3e)" style="fill: #1f77b4" /></g><g><path d="M 539.28 583.2 L 546.48 583.2 L 546.48 546.48 L 539.28 546.48 z" clip-path="url(#p1958cf9c3e)" style="fill: #1f77b4" /></g><g><path d="M 565.2 583.2 L 571.68 583.2 L 571.68 545.04 L 565.2 545.04 z" clip-path="url(#p1958cf9c3e)" style="fill: #1f77b4" /></g><g><path d="M 590.4 583.2 L 597.6 583.2 L 597.6 546.48 L 590.4 546.48 z" clip-path="url(#p1958cf9c3e)" style="fill: #1f77b4" /></g><g><path d="M 616.32 583.2 L 622.8 583.2 L 622.8 543.6 L 616.32 543.6 z" clip-path="url(#p1958cf9c3e)" style="fill: #1f77b4" /></g><g><path d="M 642.24 583.2 L 648.72 583.2 L 648.72 536.4 L 642.24 536.4 z" clip-path="url(#p1958cf9c3e)" style="fill: #1f77b4" /></g><g><path d="M 667.44 583.2 L 674.64 583.2 L 674.64 514.8 L 667.44 514.8 z" clip-path="url(#p1958cf9c3e)" style="fill: #1f77b4" /></g><g><path d="M 693.36 583.2 L 699.84 583.2 L 699.84 434.88 L 693.36 434.88 z" clip-path="url(#p1958cf9c3e)" style="fill: #1f77b4" /></g><g><path d="M 718.56 583.2 L 725.76 583.2 L 725.76 583.2 L 718.56 583.2 z" clip-path="url(#p1958cf9c3e)" style="fill: #1f77b4" /></g><g><path d="M 744.48 583.2 L 751.68 583.2 L 751.68 583.2 L 744.48 583.2 z" clip-path="url(#p1958cf9c3e)" style="fill: #1f77b4" /></g><g><path d="M 520.56 583.2 L 527.04 583.2 L 527.04 540.72 L 520.56 540.72 z" clip-path="url(#p1958cf9c3e)" style="fill: #ff7f0e" /></g><g><path d="M 546.48 583.2 L 552.96 583.2 L 552.96 565.2 L 546.48 565.2 z" clip-path="url(#p1958cf9c3e)" style="fill: #ff7f0e" /></g><g><path d="M 571.68 583.2 L 578.88 583.2 L 578.88 531.36 L 571.68 531.36 z" clip-path="url(#p1958cf9c3e)" style="fill: #ff7f0e" /></g><g><path d="M 597.6 583.2 L 604.08 583.2 L 604.08 525.6 L 597.6 525.6 z" clip-path="url(#p1958cf9c3e)" style="fill: #ff7f0e" /></g><g><path d="M 622.8 583.2 L 630 583.2 L 630 534.96 L 622.8 534.96 z" clip-path="url(#p1958cf9c3e)" style="fill: #ff7f0e" /></g><g><path d="M 648.72 583.2 L 655.92 583.2 L 655.92 531.36 L 648.72 531.36 z" clip-path="url(#p1958cf9c3e)" style="fill: #ff7f0e" /></g><g><path d="M 674.64 583.2 L 681.12 583.2 L 681.12 533.52 L 674.64 533.52 z" clip-path="url(#p1958cf9c3e)" style="fill: #ff7f0e" /></g><g><path d="M 699.84 583.2 L 707.04 583.2 L 707.04 519.84 L 699.84 519.84 z" clip-path="url(#p1958cf9c3e)" style="fill: #ff7f0e" /></g><g><path d="M 725.76 583.2 L 732.24 583.2 L 732.24 534.96 L 725.76 534.96 z" clip-path="url(#p1958cf9c3e)" style="fill: #ff7f0e" /></g><g><path d="M 751.68 583.2 L 758.16 583.2 L 758.16 519.84 L 751.68 519.84 z" clip-path="url(#p1958cf9c3e)" style="fill: #ff7f0e" /></g><g><path d="M 527.04 583.2 L 534.24 583.2 L 534.24 583.2 L 527.04 583.2 z" clip-path="url(#p1958cf9c3e)" style="fill: #2ca02c" /></g><g><path d="M 552.96 583.2 L 560.16 583.2 L 560.16 583.2 L 552.96 583.2 z" clip-path="url(#p1958cf9c3e)" style="fill: #2ca02c" /></g><g><path d="M 578.88 583.2 L 585.36 583.2 L 585.36 583.2 L 578.88 583.2 z" clip-path="url(#p1958cf9c3e)" style="fill: #2ca02c" /></g><g><path d="M 604.08 583.2 L 611.28 583.2 L 611.28 583.2 L 604.08 583.2 z" clip-path="url(#p1958cf9c3e)" style="fill: #2ca02c" /></g><g><path d="M 630 583.2 L 636.48 583.2 L 636.48 583.2 L 630 583.2 z" clip-path="url(#p1958cf9c3e)" style="fill: #2ca02c" /></g><g><path d="M 655.92 583.2 L 662.4 583.2 L 662.4 89.28 L 655.92 89.28 z" clip-path="url(#p1958cf9c3e)" style="fill: #2ca02c" /></g><g><path d="M 681.12 583.2 L 688.32 583.2 L 688.32 583.2 L 681.12 583.2 z" clip-path="url(#p1958cf9c3e)" style="fill: #2ca02c" /></g><g><path d="M 707.04 583.2 L 713.52 583.2 L 713.52 583.2 L 707.04 583.2 z" clip-path="url(#p1958cf9c3e)" style="fill: #2ca02c" /></g><g><path d="M 732.24 583.2 L 739.44 583.2 L 739.44 583.2 L 732.24 583.2 z" clip-path="url(#p1958cf9c3e)" style="fill: #2ca02c" /></g><g><path d="M 758.16 583.2 L 765.36 583.2 L 765.36 583.2 L 758.16 583.2 z" clip-path="url(#p1958cf9c3e)" style="fill: #2ca02c" /></g><g><g><g><g><path d="M 502.92 583.56 L 502.92 587.16" style="stroke: #000000; stroke-width: 0.8;stroke: #000000; stroke-width: 0.8" /></g></g><g><text style="font-size: 10px; font-family: 'DejaVu Sans', sans-serif; text-anchor: middle" x="502.27" y="597.8" transform="translate(-0.360 0.720) translate(502.27 597.80) scale(0.9722 1.0000) translate(-502.27 -597.80)">−800</text></g></g><g><g><g><path d="M 539.64 583.56 L 539.64 587.16" style="stroke: #000000; stroke-width: 0.8;stroke: #000000; stroke-width: 0.8" /></g></g><g><text style="font-size: 10px; font-family: 'DejaVu Sans', sans-serif; text-anchor: middle" x="539.46" y="597.8" transform="translate(0.000 0.720)">−600</text></g></g><g><g><g><path d="M 577.08 583.56 L 577.08 587.16" style="stroke: #000000; stroke-width: 0.8;stroke: #000000; stroke-width: 0.8" /></g></g><g><text style="font-size: 10px; font-family: 'DejaVu Sans', sans-serif; text-anchor: middle" x="576.65" y="597.8" transform="translate(-0.360 0.720) translate(576.65 597.80) scale(0.9722 1.0000) translate(-576.65 -597.80)">−400</text></g></g><g><g><g><path d="M 614.52 583.56 L 614.52 587.16" style="stroke: #000000; stroke-width: 0.8;stroke: #000000; stroke-width: 0.8" /></g></g><g><text style="font-size: 10px; font-family: 'DejaVu Sans', sans-serif; text-anchor: middle" x="613.84" y="597.8" transform="translate(-0.360 0.720) translate(613.84 597.80) scale(0.9722 1.0000) translate(-613.84 -597.80)">−200</text></g></g><g><g><g><path d="M 651.24 583.56 L 651.24 587.16" style="stroke: #000000; stroke-width: 0.8;stroke: #000000; stroke-width: 0.8" /></g></g><g><text style="font-size: 10px; font-family: 'DejaVu Sans', sans-serif; text-anchor: middle" x="651.03" y="597.8" transform="translate(0.720 0.720)">0</text></g></g><g><g><g><path d="M 688.68 583.56 L 688.68 587.16" style="stroke: #000000; stroke-width: 0.8;stroke: #000000; stroke-width: 0.8" /></g></g><g><text style="font-size: 10px; font-family: 'DejaVu Sans', sans-serif; text-anchor: middle" x="688.22" y="597.8" transform="translate(0.360 0.720) translate(688.22 597.80) scale(0.9600 1.0000) translate(-688.22 -597.80)">200</text></g></g><g><g><g><path d="M 726.12 583.56 L 726.12 587.16" style="stroke: #000000; stroke-width: 0.8;stroke: #000000; stroke-width: 0.8" /></g></g><g><text style="font-size: 10px; font-family: 'DejaVu Sans', sans-serif; text-anchor: middle" x="725.41" y="597.8" transform="translate(0.000 0.720) translate(725.41 597.80) scale(0.9200 1.0000) translate(-725.41 -597.80)">400</text></g></g><g><g><g><path d="M 762.84 583.56 L 762.84 587.16" style="stroke: #000000; stroke-width: 0.8;stroke: #000000; stroke-width: 0.8" /></g></g><g><text style="font-size: 10px; font-family: 'DejaVu Sans', sans-serif; text-anchor: middle" x="762.6" y="597.8" transform="translate(0.000 0.720)">600</text></g></g></g><g><g><g><g><path d="M 501.48 583.56 L 497.88 583.56" style="stroke: #000000; stroke-width: 0.8;stroke: #000000; stroke-width: 0.8" /></g></g><g><text style="font-size: 10px; font-family: 'DejaVu Sans', sans-serif; text-anchor: end" x="494.12" y="587" transform="translate(0.720 0.720)">0</text></g></g><g><g><g><path d="M 501.48 515.16 L 497.88 515.16" style="stroke: #000000; stroke-width: 0.8;stroke: #000000; stroke-width: 0.8" /></g></g><g><text style="font-size: 10px; font-family: 'DejaVu Sans', sans-serif; text-anchor: end" x="494.12" y="518.43">50</text></g></g><g><g><g><path d="M 501.48 446.76 L 497.88 446.76" style="stroke: #000000; stroke-width: 0.8;stroke: #000000; stroke-width: 0.8" /></g></g><g><text style="font-size: 10px; font-family: 'DejaVu Sans', sans-serif; text-anchor: end" x="494.12" y="449.86" transform="translate(-0.720 0.000) translate(494.12 449.86) scale(0.9167 1.0000) translate(-494.12 -449.86)">100</text></g></g><g><g><g><path d="M 501.48 377.64 L 497.88 377.64" style="stroke: #000000; stroke-width: 0.8;stroke: #000000; stroke-width: 0.8" /></g></g><g><text style="font-size: 10px; font-family: 'DejaVu Sans', sans-serif; text-anchor: end" x="494.12" y="381.28" transform="translate(-0.720 0.000) translate(494.12 381.28) scale(0.9167 1.0000) translate(-494.12 -381.28)">150</text></g></g><g><g><g><path d="M 501.48 309.24 L 497.88 309.24" style="stroke: #000000; stroke-width: 0.8;stroke: #000000; stroke-width: 0.8" /></g></g><g><text style="font-size: 10px; font-family: 'DejaVu Sans', sans-serif; text-anchor: end" x="494.12" y="312.71" transform="translate(0.000 0.720)">200</text></g></g><g><g><g><path d="M 501.48 240.84 L 497.88 240.84" style="stroke: #000000; stroke-width: 0.8;stroke: #000000; stroke-width: 0.8" /></g></g><g><text style="font-size: 10px; font-family: 'DejaVu Sans', sans-serif; text-anchor: end" x="494.12" y="244.14">250</text></g></g><g><g><g><path d="M 501.48 172.44 L 497.88 172.44" style="stroke: #000000; stroke-width: 0.8;stroke: #000000; stroke-width: 0.8" /></g></g><g><text style="font-size: 10px; font-family: 'DejaVu Sans', sans-serif; text-anchor: end" x="494.12" y="175.57" transform="translate(-0.720 0.000) translate(494.12 175.57) scale(0.9583 1.0000) translate(-494.12 -175.57)">300</text></g></g><g><g><g><path d="M 501.48 103.32 L 497.88 103.32" style="stroke: #000000; stroke-width: 0.8;stroke: #000000; stroke-width: 0.8" /></g></g><g><text style="font-size: 10px; font-family: 'DejaVu Sans', sans-serif; text-anchor: end" x="494.12" y="107" transform="translate(-0.720 0.000) translate(494.12 107.00) scale(0.9583 1.0000) translate(-494.12 -107.00)">350</text></g></g></g><g><path d="M 501.48 583.56 L 501.48 65.16" style="fill: none; stroke: #000000; stroke-width: 0.8; stroke-linejoin: miter; stroke-linecap: square" /></g><g><path d="M 777.96 583.56 L 777.96 65.16" style="fill: none; stroke: #000000; stroke-width: 0.8; stroke-linejoin: miter; stroke-linecap: square" /></g><g><path d="M 501.48 583.56 L 777.96 583.56" style="fill: none; stroke: #000000; stroke-width: 0.8; stroke-linejoin: miter; stroke-linecap: square" /></g><g><path d="M 501.48 65.16 L 777.96 65.16" style="fill: none; stroke: #000000; stroke-width: 0.8; stroke-linejoin: miter; stroke-linecap: square" /></g><g><text style="font-size: 12px; font-family: 'DejaVu Sans', sans-serif; text-anchor: middle" x="639.36" y="58.8" transform="translate(639.36 58.80) scale(0.9762 1.1000) translate(-639.36 -58.80)">Histogram</text></g></g></g><defs><clipPath id="pd46f35ea29"><rect x="86.4" y="83.65" width="276.48" height="276.48" /></clipPath><clipPath id="p9a0f7176bb"><rect x="156.9" y="426.11" width="135.48" height="157.09" /></clipPath><clipPath id="p1958cf9c3e"><rect x="501.12" y="64.8" width="276.48" height="518.4" /></clipPath></defs></svg>
</body></html>
